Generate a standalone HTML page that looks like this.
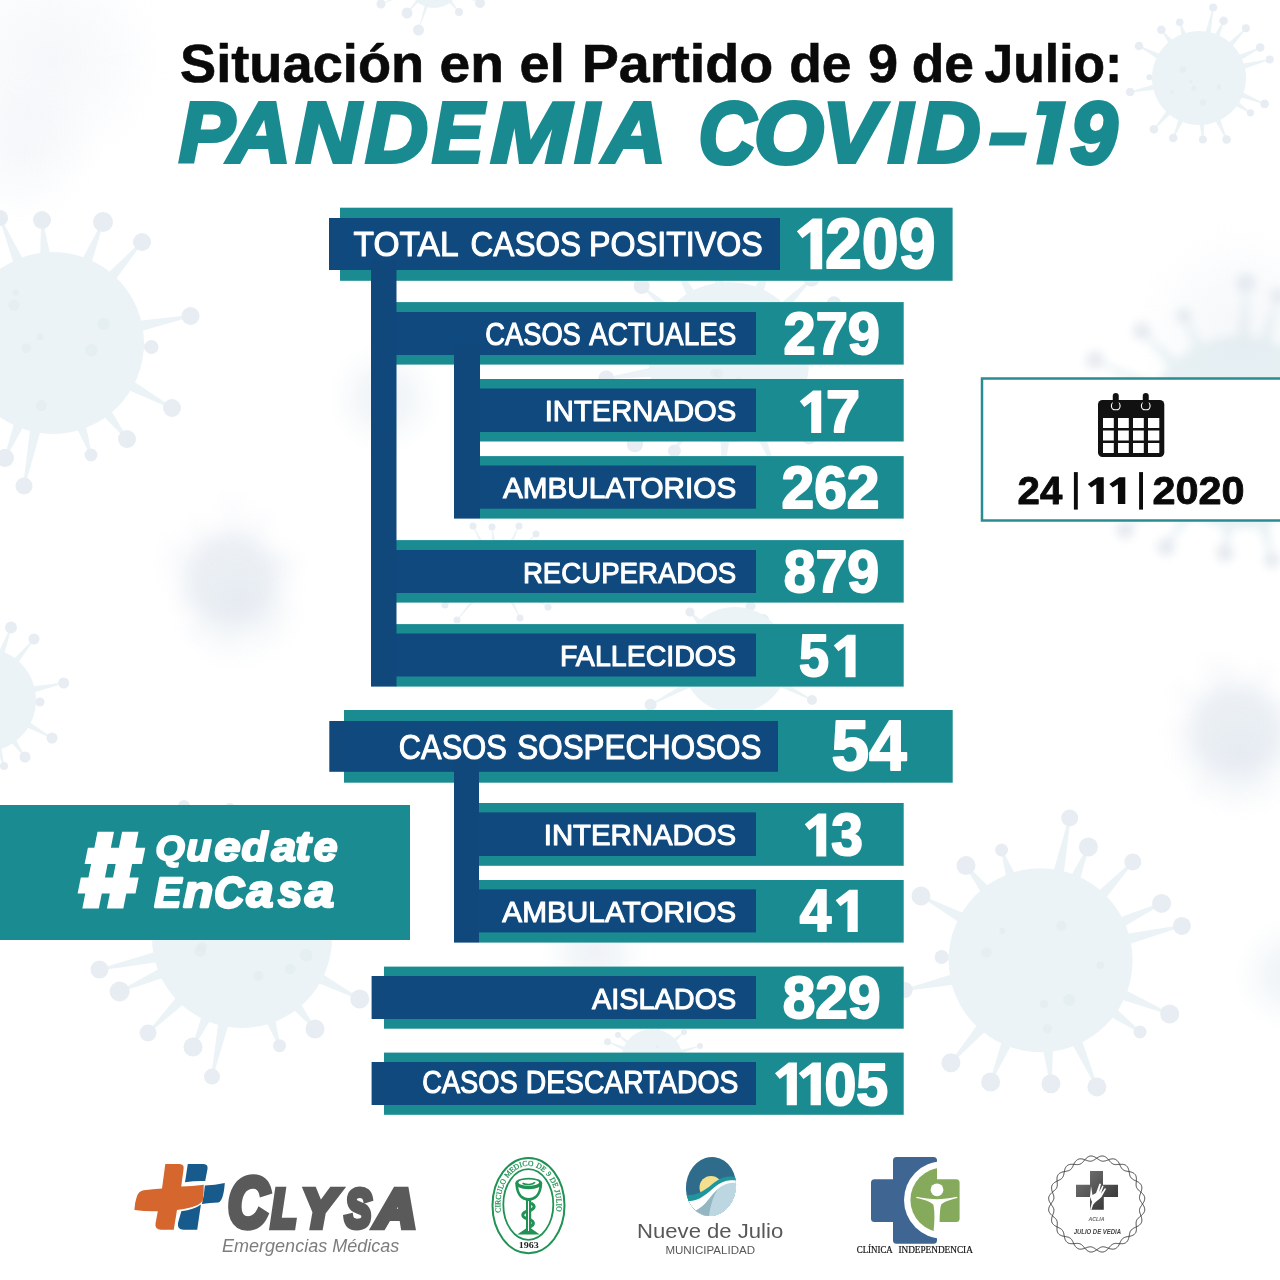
<!DOCTYPE html>
<html lang="es">
<head>
<meta charset="utf-8">
<title>Situación en el Partido de 9 de Julio: Pandemia COVID-19</title>
<style>
html,body{margin:0;padding:0;background:#fff;}
body{width:1280px;height:1280px;overflow:hidden;font-family:"Liberation Sans",sans-serif;}
svg{display:block;}
text{font-family:"Liberation Sans",sans-serif;}
.lbl{fill:#fff;font-weight:400;stroke:#fff;stroke-width:1.05;stroke-linejoin:round;}
.num{fill:#fff;font-weight:700;stroke:#fff;stroke-width:2;stroke-linejoin:round;}
.serif{font-family:"Liberation Serif",serif;}
</style>
</head>
<body>
<svg width="1280" height="1280" viewBox="0 0 1280 1280">
<rect x="0" y="0" width="1280" height="1280" fill="#ffffff"/>
<g opacity="0.999">
<defs>
<radialGradient id="gb"><stop offset="0" stop-color="#dfe4ee"/><stop offset="0.45" stop-color="#e6edf2" stop-opacity="0.85"/><stop offset="1" stop-color="#eef3f6" stop-opacity="0"/></radialGradient>
<filter id="b3" x="-30%" y="-30%" width="160%" height="160%"><feGaussianBlur stdDeviation="3"/></filter>
<filter id="b5" x="-30%" y="-30%" width="160%" height="160%"><feGaussianBlur stdDeviation="5"/></filter>
<filter id="b10" x="-40%" y="-40%" width="180%" height="180%"><feGaussianBlur stdDeviation="10"/></filter>
<filter id="b8" x="-30%" y="-30%" width="160%" height="160%"><feGaussianBlur stdDeviation="8"/></filter>
</defs>
<g opacity="1">
<path d="M1062.7 882.2L1070.6 818.2L1068.8 817.8L1051.0 879.8Z" fill="#ecf3f6"/>
<circle cx="1069.7" cy="818.0" r="8.5" fill="#e7edf2"/>
<path d="M1077.6 888.0L1089.2 847.3L1087.6 846.7L1066.6 883.4Z" fill="#ecf3f6"/>
<circle cx="1088.4" cy="847.0" r="9.5" fill="#e7edf2"/>
<path d="M1100.3 905.3L1133.5 862.5L1132.1 861.3L1091.6 897.1Z" fill="#ecf3f6"/>
<circle cx="1132.8" cy="861.9" r="8.5" fill="#e7edf2"/>
<path d="M1116.4 931.3L1162.0 904.2L1161.2 902.6L1111.3 920.4Z" fill="#ecf3f6"/>
<circle cx="1161.6" cy="903.4" r="9.5" fill="#e7edf2"/>
<path d="M1120.7 947.0L1182.1 926.8L1181.7 925.0L1117.8 935.3Z" fill="#ecf3f6"/>
<circle cx="1181.9" cy="925.9" r="9.0" fill="#e7edf2"/>
<path d="M1113.1 996.9L1169.4 1014.8L1170.0 1013.2L1117.6 985.9Z" fill="#ecf3f6"/>
<circle cx="1169.7" cy="1014.0" r="9.5" fill="#e7edf2"/>
<path d="M1102.8 1012.5L1139.5 1032.7L1140.5 1031.3L1109.8 1002.8Z" fill="#ecf3f6"/>
<circle cx="1140.0" cy="1032.0" r="6.5" fill="#e7edf2"/>
<path d="M1068.0 1036.7L1096.1 1087.3L1097.7 1086.5L1079.0 1031.8Z" fill="#ecf3f6"/>
<circle cx="1096.9" cy="1086.9" r="9.5" fill="#e7edf2"/>
<path d="M1041.4 1041.5L1050.0 1083.9L1051.8 1083.7L1053.3 1040.5Z" fill="#ecf3f6"/>
<circle cx="1050.9" cy="1083.8" r="9.5" fill="#e7edf2"/>
<path d="M1004.3 1032.9L989.8 1081.7L991.4 1082.3L1015.4 1037.5Z" fill="#ecf3f6"/>
<circle cx="990.6" cy="1082.0" r="9.5" fill="#e7edf2"/>
<path d="M982.8 1017.3L950.2 1062.2L951.6 1063.4L991.8 1025.2Z" fill="#ecf3f6"/>
<circle cx="950.9" cy="1062.8" r="9.5" fill="#e7edf2"/>
<path d="M960.2 971.7L904.5 989.1L904.9 990.9L962.8 983.4Z" fill="#ecf3f6"/>
<circle cx="904.7" cy="990.0" r="8.0" fill="#e7edf2"/>
<path d="M959.9 951.6L941.6 956.1L941.6 957.9L959.5 963.6Z" fill="#ecf3f6"/>
<circle cx="941.6" cy="957.0" r="7.0" fill="#e7edf2"/>
<path d="M972.1 916.7L921.4 895.2L920.6 896.8L966.5 927.2Z" fill="#ecf3f6"/>
<circle cx="921.0" cy="896.0" r="9.5" fill="#e7edf2"/>
<path d="M995.2 893.0L966.7 865.0L965.3 866.2L985.8 900.4Z" fill="#ecf3f6"/>
<circle cx="966.0" cy="865.6" r="9.5" fill="#e7edf2"/>
<path d="M1019.2 882.0L1002.4 849.7L1000.8 850.3L1008.0 886.0Z" fill="#ecf3f6"/>
<circle cx="1001.6" cy="850.0" r="6.5" fill="#e7edf2"/>
<circle cx="1040.6" cy="960.3" r="92.0" fill="#ecf3f6"/>
<circle cx="1043.9" cy="1004.0" r="4.1" fill="#e3ebef" opacity="0.7"/>
<circle cx="1002.2" cy="930.9" r="3.0" fill="#e3ebef" opacity="0.7"/>
<circle cx="1100.4" cy="965.3" r="3.7" fill="#e3ebef" opacity="0.7"/>
<circle cx="1047.4" cy="1028.7" r="4.5" fill="#e3ebef" opacity="0.7"/>
<circle cx="1061.3" cy="926.0" r="5.1" fill="#e3ebef" opacity="0.7"/>
<circle cx="1069.2" cy="999.9" r="6.0" fill="#e3ebef" opacity="0.7"/>
<circle cx="986.5" cy="952.4" r="5.2" fill="#e3ebef" opacity="0.7"/>
</g>
<g opacity="1">
<path d="M27.2 267.0L0.8 217.7L-0.8 218.3L16.3 271.6Z" fill="#ecf3f6"/>
<circle cx="0.0" cy="218.0" r="8.0" fill="#e7edf2"/>
<path d="M51.8 262.7L42.9 219.9L41.1 220.1L40.0 263.8Z" fill="#ecf3f6"/>
<circle cx="42.0" cy="220.0" r="9.0" fill="#e7edf2"/>
<path d="M89.0 271.2L103.8 222.3L102.2 221.7L78.1 266.7Z" fill="#ecf3f6"/>
<circle cx="103.0" cy="222.0" r="10.0" fill="#e7edf2"/>
<path d="M110.4 286.8L142.7 242.6L141.3 241.4L101.5 279.0Z" fill="#ecf3f6"/>
<circle cx="142.0" cy="242.0" r="9.0" fill="#e7edf2"/>
<path d="M132.7 333.4L190.7 316.9L190.3 315.1L130.4 321.8Z" fill="#ecf3f6"/>
<circle cx="190.5" cy="316.0" r="9.0" fill="#e7edf2"/>
<path d="M132.8 352.2L151.5 347.9L151.5 346.1L133.3 340.3Z" fill="#ecf3f6"/>
<circle cx="151.5" cy="347.0" r="7.0" fill="#e7edf2"/>
<path d="M120.4 386.6L171.6 408.8L172.4 407.2L126.1 376.2Z" fill="#ecf3f6"/>
<circle cx="172.0" cy="408.0" r="9.0" fill="#e7edf2"/>
<path d="M97.2 410.0L126.3 439.5L127.7 438.5L106.6 402.8Z" fill="#ecf3f6"/>
<circle cx="127.0" cy="439.0" r="9.0" fill="#e7edf2"/>
<path d="M73.1 420.7L90.2 455.3L91.8 454.7L84.3 416.9Z" fill="#ecf3f6"/>
<circle cx="91.0" cy="455.0" r="6.5" fill="#e7edf2"/>
<path d="M31.3 420.3L23.1 485.8L24.9 486.2L42.9 422.7Z" fill="#ecf3f6"/>
<circle cx="24.0" cy="486.0" r="8.5" fill="#e7edf2"/>
<path d="M16.7 414.6L4.2 457.7L5.8 458.3L27.6 419.2Z" fill="#ecf3f6"/>
<circle cx="5.0" cy="458.0" r="9.0" fill="#e7edf2"/>
<circle cx="53.0" cy="343.0" r="91.0" fill="#ecf3f6"/>
<circle cx="14.2" cy="305.2" r="5.6" fill="#e3ebef" opacity="0.7"/>
<circle cx="103.6" cy="323.9" r="6.1" fill="#e3ebef" opacity="0.7"/>
<circle cx="91.4" cy="350.1" r="6.2" fill="#e3ebef" opacity="0.7"/>
<circle cx="15.7" cy="292.4" r="3.1" fill="#e3ebef" opacity="0.7"/>
<circle cx="26.4" cy="348.2" r="4.7" fill="#e3ebef" opacity="0.7"/>
<circle cx="40.2" cy="336.6" r="3.5" fill="#e3ebef" opacity="0.7"/>
<circle cx="41.3" cy="405.6" r="5.5" fill="#e3ebef" opacity="0.7"/>
</g>
<g opacity="1">
<path d="M1210.2 38.1L1213.6 7.5L1212.8 7.3L1204.2 36.8Z" fill="#ecf3f6"/>
<circle cx="1213.2" cy="7.4" r="4.0" fill="#e7edf2"/>
<path d="M1218.1 41.2L1224.0 21.0L1223.2 20.6L1212.5 38.8Z" fill="#ecf3f6"/>
<circle cx="1223.6" cy="20.8" r="4.3" fill="#e7edf2"/>
<path d="M1229.6 50.0L1246.2 28.5L1245.6 27.9L1225.1 45.8Z" fill="#ecf3f6"/>
<circle cx="1245.9" cy="28.2" r="4.0" fill="#e7edf2"/>
<path d="M1237.4 62.3L1260.4 47.9L1260.0 47.1L1234.7 56.8Z" fill="#ecf3f6"/>
<circle cx="1260.2" cy="47.5" r="4.3" fill="#e7edf2"/>
<path d="M1239.8 70.4L1269.8 59.8L1269.6 59.0L1238.2 64.5Z" fill="#ecf3f6"/>
<circle cx="1269.7" cy="59.4" r="4.0" fill="#e7edf2"/>
<path d="M1236.3 96.0L1264.4 104.3L1264.8 103.5L1238.6 90.3Z" fill="#ecf3f6"/>
<circle cx="1264.6" cy="103.9" r="4.3" fill="#e7edf2"/>
<path d="M1231.5 103.7L1250.1 113.2L1250.7 112.4L1235.0 98.7Z" fill="#ecf3f6"/>
<circle cx="1250.4" cy="112.8" r="3.6" fill="#e7edf2"/>
<path d="M1213.1 117.0L1226.2 139.7L1227.0 139.3L1218.7 114.5Z" fill="#ecf3f6"/>
<circle cx="1226.6" cy="139.5" r="4.3" fill="#e7edf2"/>
<path d="M1198.6 119.5L1202.4 139.5L1203.4 139.5L1204.7 119.1Z" fill="#ecf3f6"/>
<circle cx="1202.9" cy="139.5" r="4.0" fill="#e7edf2"/>
<path d="M1179.9 114.8L1172.8 137.8L1173.6 138.2L1185.5 117.2Z" fill="#ecf3f6"/>
<circle cx="1173.2" cy="138.0" r="4.3" fill="#e7edf2"/>
<path d="M1169.4 107.0L1153.6 128.9L1154.2 129.5L1174.0 111.1Z" fill="#ecf3f6"/>
<circle cx="1153.9" cy="129.2" r="4.3" fill="#e7edf2"/>
<path d="M1157.9 83.2L1130.0 91.6L1130.2 92.4L1159.1 89.2Z" fill="#ecf3f6"/>
<circle cx="1130.1" cy="92.0" r="4.3" fill="#e7edf2"/>
<path d="M1157.7 74.3L1149.4 76.7L1149.4 77.7L1157.6 80.4Z" fill="#ecf3f6"/>
<circle cx="1149.4" cy="77.2" r="3.0" fill="#e7edf2"/>
<path d="M1163.9 55.8L1139.2 45.6L1138.8 46.4L1161.1 61.2Z" fill="#ecf3f6"/>
<circle cx="1139.0" cy="46.0" r="4.3" fill="#e7edf2"/>
<path d="M1176.0 43.5L1161.7 29.4L1160.9 30.0L1171.1 47.3Z" fill="#ecf3f6"/>
<circle cx="1161.3" cy="29.7" r="4.3" fill="#e7edf2"/>
<path d="M1188.3 37.9L1180.1 22.1L1179.3 22.5L1182.6 39.9Z" fill="#ecf3f6"/>
<circle cx="1179.7" cy="22.3" r="3.8" fill="#e7edf2"/>
<circle cx="1199.0" cy="78.0" r="47.0" fill="#ecf3f6"/>
<circle cx="1193.9" cy="88.1" r="2.6" fill="#e3ebef" opacity="0.7"/>
<circle cx="1218.9" cy="87.7" r="2.1" fill="#e3ebef" opacity="0.7"/>
<circle cx="1219.0" cy="85.6" r="1.5" fill="#e3ebef" opacity="0.7"/>
<circle cx="1190.8" cy="81.7" r="1.6" fill="#e3ebef" opacity="0.7"/>
<circle cx="1172.0" cy="91.9" r="1.6" fill="#e3ebef" opacity="0.7"/>
<circle cx="1203.1" cy="102.4" r="3.2" fill="#e3ebef" opacity="0.7"/>
<circle cx="1182.9" cy="69.5" r="3.2" fill="#e3ebef" opacity="0.7"/>
</g>
<g opacity="1">
<path d="M3.1 658.3L11.5 627.7L10.5 627.3L-3.2 655.9Z" fill="#ecf3f6"/>
<circle cx="11.0" cy="627.5" r="6.0" fill="#e7edf2"/>
<path d="M15.6 666.8L34.4 639.3L33.6 638.7L10.4 662.5Z" fill="#ecf3f6"/>
<circle cx="34.0" cy="639.0" r="5.5" fill="#e7edf2"/>
<path d="M29.5 693.8L63.8 683.5L63.6 682.5L28.0 687.1Z" fill="#ecf3f6"/>
<circle cx="63.7" cy="683.0" r="5.5" fill="#e7edf2"/>
<path d="M29.6 705.0L40.0 702.5L40.0 701.5L29.9 698.3Z" fill="#ecf3f6"/>
<circle cx="40.0" cy="702.0" r="4.5" fill="#e7edf2"/>
<path d="M22.3 725.3L51.8 738.4L52.2 737.6L25.6 719.4Z" fill="#ecf3f6"/>
<circle cx="52.0" cy="738.0" r="5.5" fill="#e7edf2"/>
<path d="M8.0 739.1L24.6 757.3L25.4 756.7L13.5 735.2Z" fill="#ecf3f6"/>
<circle cx="25.0" cy="757.0" r="5.5" fill="#e7edf2"/>
<path d="M-6.0 744.8L3.5 766.1L4.5 765.9L0.5 742.8Z" fill="#ecf3f6"/>
<circle cx="4.0" cy="766.0" r="4.0" fill="#e7edf2"/>
<circle cx="-16.0" cy="700.0" r="52.0" fill="#ecf3f6"/>
<circle cx="-34.9" cy="704.5" r="1.8" fill="#e3ebef" opacity="0.7"/>
<circle cx="-10.7" cy="694.1" r="2.6" fill="#e3ebef" opacity="0.7"/>
<circle cx="-7.7" cy="693.8" r="2.7" fill="#e3ebef" opacity="0.7"/>
<circle cx="-22.7" cy="693.9" r="2.3" fill="#e3ebef" opacity="0.7"/>
<circle cx="-22.3" cy="679.0" r="3.1" fill="#e3ebef" opacity="0.7"/>
<circle cx="-7.6" cy="712.7" r="1.8" fill="#e3ebef" opacity="0.7"/>
<circle cx="-52.6" cy="698.6" r="2.8" fill="#e3ebef" opacity="0.7"/>
</g>
<g opacity="1">
<path d="M163.4 949.4L99.3 968.7L99.7 970.5L165.9 960.9Z" fill="#ecf3f6"/>
<circle cx="99.5" cy="969.6" r="9.0" fill="#e7edf2"/>
<path d="M167.1 964.4L119.2 990.7L120.0 992.3L171.8 975.1Z" fill="#ecf3f6"/>
<circle cx="119.6" cy="991.5" r="10.0" fill="#e7edf2"/>
<path d="M182.1 990.2L147.4 1032.4L148.6 1033.6L190.5 998.4Z" fill="#ecf3f6"/>
<circle cx="148.0" cy="1033.0" r="8.5" fill="#e7edf2"/>
<path d="M204.2 1007.8L192.2 1046.6L193.8 1047.4L214.9 1012.6Z" fill="#ecf3f6"/>
<circle cx="193.0" cy="1047.0" r="9.5" fill="#e7edf2"/>
<path d="M219.5 1014.2L211.1 1076.4L212.9 1076.8L231.0 1016.6Z" fill="#ecf3f6"/>
<circle cx="212.0" cy="1076.6" r="8.0" fill="#e7edf2"/>
<path d="M262.5 1014.7L278.7 1046.0L280.3 1045.4L273.6 1010.9Z" fill="#ecf3f6"/>
<circle cx="279.5" cy="1045.7" r="6.5" fill="#e7edf2"/>
<path d="M287.0 1003.4L314.3 1029.5L315.7 1028.5L296.1 996.1Z" fill="#ecf3f6"/>
<circle cx="315.0" cy="1029.0" r="9.5" fill="#e7edf2"/>
<path d="M309.6 979.6L359.3 999.8L360.1 998.2L315.0 969.2Z" fill="#ecf3f6"/>
<circle cx="359.7" cy="999.0" r="9.5" fill="#e7edf2"/>
<path d="M215.5 863.1L184.8 805.6L183.2 806.4L204.8 867.8Z" fill="#ecf3f6"/>
<circle cx="184.0" cy="806.0" r="6.0" fill="#e7edf2"/>
<path d="M240.5 858.6L230.9 807.9L229.1 808.1L228.9 859.7Z" fill="#ecf3f6"/>
<circle cx="230.0" cy="808.0" r="5.0" fill="#e7edf2"/>
<circle cx="242.0" cy="938.0" r="90.0" fill="#ecf3f6"/>
<circle cx="200.2" cy="950.9" r="6.0" fill="#e3ebef" opacity="0.7"/>
<circle cx="202.0" cy="946.8" r="4.8" fill="#e3ebef" opacity="0.7"/>
<circle cx="258.4" cy="975.7" r="5.0" fill="#e3ebef" opacity="0.7"/>
<circle cx="247.0" cy="920.1" r="3.8" fill="#e3ebef" opacity="0.7"/>
<circle cx="290.2" cy="968.9" r="5.2" fill="#e3ebef" opacity="0.7"/>
<circle cx="306.2" cy="955.3" r="6.2" fill="#e3ebef" opacity="0.7"/>
<circle cx="215.5" cy="899.5" r="3.3" fill="#e3ebef" opacity="0.7"/>
</g>
<g opacity="1">
<path d="M799.6 362.9L849.3 355.5L849.2 353.9L799.0 352.5Z" fill="#ecf3f6"/>
<circle cx="849.2" cy="354.7" r="7.8" fill="#e7edf2"/>
<path d="M788.0 400.7L823.5 415.3L824.2 413.9L793.1 391.6Z" fill="#ecf3f6"/>
<circle cx="823.8" cy="414.6" r="6.3" fill="#e7edf2"/>
<path d="M777.0 413.7L808.6 437.1L809.6 435.9L784.1 406.1Z" fill="#ecf3f6"/>
<circle cx="809.1" cy="436.5" r="7.9" fill="#e7edf2"/>
<path d="M752.1 428.7L774.5 469.5L775.9 468.9L761.6 424.6Z" fill="#ecf3f6"/>
<circle cx="775.2" cy="469.2" r="6.3" fill="#e7edf2"/>
<path d="M720.1 432.0L722.2 476.2L723.7 476.2L730.5 432.6Z" fill="#ecf3f6"/>
<circle cx="722.9" cy="476.2" r="8.3" fill="#e7edf2"/>
<path d="M687.7 419.3L673.7 450.5L675.0 451.3L696.6 424.7Z" fill="#ecf3f6"/>
<circle cx="674.4" cy="450.9" r="6.5" fill="#e7edf2"/>
<path d="M672.5 404.3L634.3 443.5L635.4 444.7L679.4 412.2Z" fill="#ecf3f6"/>
<circle cx="634.9" cy="444.1" r="8.2" fill="#e7edf2"/>
<path d="M658.5 366.1L606.1 377.6L606.4 379.1L659.9 376.5Z" fill="#ecf3f6"/>
<circle cx="606.3" cy="378.4" r="8.0" fill="#e7edf2"/>
<path d="M663.9 334.8L612.5 322.3L612.0 323.8L660.6 344.6Z" fill="#ecf3f6"/>
<circle cx="612.3" cy="323.0" r="6.4" fill="#e7edf2"/>
<path d="M679.3 311.9L642.3 285.5L641.2 286.6L672.5 319.7Z" fill="#ecf3f6"/>
<circle cx="641.7" cy="286.0" r="8.0" fill="#e7edf2"/>
<path d="M699.3 297.9L674.1 261.7L672.8 262.5L690.2 303.0Z" fill="#ecf3f6"/>
<circle cx="673.4" cy="262.1" r="6.8" fill="#e7edf2"/>
<path d="M725.6 291.5L716.2 251.2L714.6 251.4L715.2 292.8Z" fill="#ecf3f6"/>
<circle cx="715.4" cy="251.3" r="6.0" fill="#e7edf2"/>
<path d="M760.9 299.0L777.1 248.6L775.6 248.0L751.3 295.0Z" fill="#ecf3f6"/>
<circle cx="776.3" cy="248.3" r="8.8" fill="#e7edf2"/>
<path d="M782.3 315.7L812.1 279.2L811.0 278.1L774.9 308.3Z" fill="#ecf3f6"/>
<circle cx="811.6" cy="278.7" r="8.0" fill="#e7edf2"/>
<path d="M793.0 332.1L834.3 303.9L833.5 302.6L787.9 323.1Z" fill="#ecf3f6"/>
<circle cx="833.9" cy="303.2" r="7.0" fill="#e7edf2"/>
<circle cx="729.0" cy="362.0" r="80.0" fill="#ecf3f6"/>
<circle cx="738.7" cy="381.5" r="4.1" fill="#e3ebef" opacity="0.7"/>
<circle cx="728.3" cy="396.0" r="4.3" fill="#e3ebef" opacity="0.7"/>
<circle cx="714.5" cy="373.1" r="4.0" fill="#e3ebef" opacity="0.7"/>
<circle cx="731.1" cy="385.2" r="3.0" fill="#e3ebef" opacity="0.7"/>
<circle cx="718.6" cy="373.5" r="4.5" fill="#e3ebef" opacity="0.7"/>
<circle cx="758.4" cy="353.2" r="4.7" fill="#e3ebef" opacity="0.7"/>
<circle cx="741.8" cy="356.2" r="2.9" fill="#e3ebef" opacity="0.7"/>
</g>
<g opacity="1">
<path d="M412.2 -10.8L380.9 3.8L381.1 4.2L413.5 -7.7Z" fill="#ecf3f6"/>
<circle cx="381.0" cy="4.0" r="4.5" fill="#e7edf2"/>
<path d="M417.7 -1.9L406.8 12.8L407.2 13.2L420.2 0.4Z" fill="#ecf3f6"/>
<circle cx="407.0" cy="13.0" r="5.5" fill="#e7edf2"/>
<path d="M425.4 3.3L418.3 29.9L418.7 30.1L428.6 4.3Z" fill="#ecf3f6"/>
<circle cx="418.5" cy="30.0" r="5.5" fill="#e7edf2"/>
<path d="M447.3 0.7L458.8 12.2L459.2 11.8L449.9 -1.5Z" fill="#ecf3f6"/>
<circle cx="459.0" cy="12.0" r="4.0" fill="#e7edf2"/>
<path d="M454.1 -7.0L479.9 3.2L480.1 2.8L455.5 -10.0Z" fill="#ecf3f6"/>
<circle cx="480.0" cy="3.0" r="5.0" fill="#e7edf2"/>
<circle cx="434.0" cy="-18.0" r="26.0" fill="#ecf3f6"/>
<circle cx="438.0" cy="-18.9" r="1.5" fill="#e3ebef" opacity="0.7"/>
<circle cx="444.5" cy="-1.8" r="0.8" fill="#e3ebef" opacity="0.7"/>
<circle cx="444.6" cy="-28.0" r="1.7" fill="#e3ebef" opacity="0.7"/>
<circle cx="441.6" cy="-18.0" r="1.1" fill="#e3ebef" opacity="0.7"/>
<circle cx="431.9" cy="-26.0" r="1.1" fill="#e3ebef" opacity="0.7"/>
<circle cx="436.3" cy="-0.9" r="1.7" fill="#e3ebef" opacity="0.7"/>
<circle cx="436.2" cy="-25.1" r="1.7" fill="#e3ebef" opacity="0.7"/>
</g>
<g opacity="1">
<path d="M486.5 547.7L473.3 525.9L472.7 526.1L483.1 549.5Z" fill="#ecf3f6"/>
<circle cx="473.0" cy="526.0" r="3.5" fill="#e7edf2"/>
<path d="M496.0 545.5L492.3 527.0L491.7 527.0L492.1 546.0Z" fill="#ecf3f6"/>
<circle cx="492.0" cy="527.0" r="3.5" fill="#e7edf2"/>
<path d="M510.1 549.0L519.3 526.1L518.7 525.9L506.6 547.3Z" fill="#ecf3f6"/>
<circle cx="519.0" cy="526.0" r="3.5" fill="#e7edf2"/>
<path d="M517.3 555.0L536.2 534.2L535.8 533.8L514.5 552.2Z" fill="#ecf3f6"/>
<circle cx="536.0" cy="534.0" r="3.5" fill="#e7edf2"/>
<path d="M473.7 584.5L444.8 604.8L445.2 605.2L475.8 587.8Z" fill="#ecf3f6"/>
<circle cx="445.0" cy="605.0" r="3.5" fill="#e7edf2"/>
<path d="M478.6 591.0L456.8 619.8L457.2 620.2L481.6 593.5Z" fill="#ecf3f6"/>
<circle cx="457.0" cy="620.0" r="3.5" fill="#e7edf2"/>
<path d="M507.1 596.5L519.7 618.1L520.3 617.9L510.6 594.7Z" fill="#ecf3f6"/>
<circle cx="520.0" cy="618.0" r="3.5" fill="#e7edf2"/>
<path d="M517.7 588.5L547.8 607.2L548.2 606.8L519.9 585.3Z" fill="#ecf3f6"/>
<circle cx="548.0" cy="607.0" r="3.5" fill="#e7edf2"/>
<path d="M523.0 566.8L540.1 560.3L539.9 559.7L521.9 563.0Z" fill="#ecf3f6"/>
<circle cx="540.0" cy="560.0" r="3.0" fill="#e7edf2"/>
<circle cx="497.0" cy="572.0" r="30.0" fill="#ecf3f6"/>
<circle cx="478.2" cy="569.4" r="2.1" fill="#e3ebef" opacity="0.7"/>
<circle cx="492.5" cy="589.7" r="1.7" fill="#e3ebef" opacity="0.7"/>
<circle cx="493.6" cy="566.5" r="0.9" fill="#e3ebef" opacity="0.7"/>
<circle cx="483.6" cy="583.9" r="1.2" fill="#e3ebef" opacity="0.7"/>
<circle cx="486.8" cy="571.9" r="1.9" fill="#e3ebef" opacity="0.7"/>
<circle cx="508.0" cy="568.0" r="2.1" fill="#e3ebef" opacity="0.7"/>
<circle cx="514.7" cy="579.3" r="2.0" fill="#e3ebef" opacity="0.7"/>
</g>
<g opacity="1">
<path d="M751.3 616.1L751.1 606.1L750.1 605.9L744.6 614.2Z" fill="#ecf3f6"/>
<circle cx="750.6" cy="606.0" r="5.0" fill="#e7edf2"/>
<path d="M764.6 623.8L763.4 620.3L762.6 619.7L758.9 619.8Z" fill="#ecf3f6"/>
<circle cx="763.0" cy="620.0" r="6.0" fill="#e7edf2"/>
<path d="M713.5 618.5L712.0 621.7L711.2 622.3L707.6 622.1Z" fill="#ecf3f6"/>
<circle cx="711.6" cy="622.0" r="5.0" fill="#e7edf2"/>
<path d="M692.2 678.8L650.4 704.2L650.8 705.2L695.4 684.9Z" fill="#ecf3f6"/>
<circle cx="650.6" cy="704.7" r="6.0" fill="#e7edf2"/>
<path d="M705.6 623.6L690.4 611.6L689.6 612.4L700.6 628.3Z" fill="#ecf3f6"/>
<circle cx="690.0" cy="612.0" r="4.5" fill="#e7edf2"/>
<path d="M780.6 649.6L800.2 640.5L799.8 639.5L778.6 643.0Z" fill="#ecf3f6"/>
<circle cx="800.0" cy="640.0" r="5.0" fill="#e7edf2"/>
<path d="M774.8 684.6L811.8 700.5L812.2 699.5L778.0 678.4Z" fill="#ecf3f6"/>
<circle cx="812.0" cy="700.0" r="5.0" fill="#e7edf2"/>
<circle cx="735.0" cy="660.0" r="53.0" fill="#ecf3f6"/>
<circle cx="720.5" cy="630.5" r="2.7" fill="#e3ebef" opacity="0.7"/>
<circle cx="714.6" cy="658.5" r="3.7" fill="#e3ebef" opacity="0.7"/>
<circle cx="731.9" cy="672.3" r="2.1" fill="#e3ebef" opacity="0.7"/>
<circle cx="733.8" cy="678.3" r="2.2" fill="#e3ebef" opacity="0.7"/>
<circle cx="749.3" cy="671.5" r="2.2" fill="#e3ebef" opacity="0.7"/>
<circle cx="722.0" cy="653.9" r="1.7" fill="#e3ebef" opacity="0.7"/>
<circle cx="742.4" cy="684.1" r="2.4" fill="#e3ebef" opacity="0.7"/>
</g>
<g opacity="1">
<path d="M627.5 1047.8L607.6 1041.4L607.4 1042.0L626.0 1051.5Z" fill="#ecf3f6"/>
<circle cx="607.5" cy="1041.7" r="3.5" fill="#e7edf2"/>
<path d="M631.2 1042.2L618.2 1034.8L617.8 1035.2L628.8 1045.5Z" fill="#ecf3f6"/>
<circle cx="618.0" cy="1035.0" r="3.0" fill="#e7edf2"/>
<path d="M673.9 1043.6L684.2 1032.2L683.8 1031.8L671.2 1040.5Z" fill="#ecf3f6"/>
<circle cx="684.0" cy="1032.0" r="3.0" fill="#e7edf2"/>
<path d="M678.8 1054.3L700.1 1046.3L699.9 1045.7L677.6 1050.4Z" fill="#ecf3f6"/>
<circle cx="700.0" cy="1046.0" r="3.0" fill="#e7edf2"/>
<path d="M659.3 1033.6L660.3 1020.1L659.7 1019.9L655.4 1032.9Z" fill="#ecf3f6"/>
<circle cx="660.0" cy="1020.0" r="3.0" fill="#e7edf2"/>
<circle cx="652.0" cy="1060.0" r="31.0" fill="#ecf3f6"/>
<circle cx="660.9" cy="1075.0" r="1.7" fill="#e3ebef" opacity="0.7"/>
<circle cx="643.4" cy="1061.1" r="1.9" fill="#e3ebef" opacity="0.7"/>
<circle cx="657.0" cy="1046.7" r="1.6" fill="#e3ebef" opacity="0.7"/>
<circle cx="652.4" cy="1064.7" r="1.4" fill="#e3ebef" opacity="0.7"/>
<circle cx="646.9" cy="1057.0" r="1.9" fill="#e3ebef" opacity="0.7"/>
<circle cx="653.0" cy="1068.9" r="1.0" fill="#e3ebef" opacity="0.7"/>
<circle cx="670.4" cy="1059.7" r="2.0" fill="#e3ebef" opacity="0.7"/>
</g>
<circle cx="595" cy="952" r="55" fill="url(#gb)" opacity="0.5"/>
<circle cx="385" cy="398" r="58" fill="url(#gb)" opacity="0.5"/>
<circle cx="50" cy="60" r="120" fill="url(#gb)" opacity="0.3"/>
<circle cx="20" cy="150" r="80" fill="url(#gb)" opacity="0.25"/>
<g opacity="0.62" filter="url(#b10)">
<path d="M271.5 574.8L291.7 569.1L291.6 568.2L270.5 568.9Z" fill="#dfe5ee"/>
<circle cx="291.6" cy="568.6" r="3.9" fill="#dde3ec"/>
<path d="M263.2 602.7L282.3 612.3L282.8 611.5L266.5 597.7Z" fill="#dfe5ee"/>
<circle cx="282.6" cy="611.9" r="3.4" fill="#dde3ec"/>
<path d="M251.7 612.9L270.8 635.9L271.5 635.4L256.6 609.5Z" fill="#dfe5ee"/>
<circle cx="271.1" cy="635.7" r="3.5" fill="#dde3ec"/>
<path d="M225.0 618.1L225.3 646.7L226.2 646.8L230.9 618.6Z" fill="#dfe5ee"/>
<circle cx="225.8" cy="646.7" r="3.5" fill="#dde3ec"/>
<path d="M207.8 611.3L197.0 634.5L197.8 635.0L212.9 614.4Z" fill="#dfe5ee"/>
<circle cx="197.4" cy="634.8" r="4.0" fill="#dde3ec"/>
<path d="M192.2 589.8L173.8 599.5L174.2 600.4L194.3 595.3Z" fill="#dfe5ee"/>
<circle cx="174.0" cy="600.0" r="3.3" fill="#dde3ec"/>
<path d="M191.3 569.5L166.3 568.6L166.2 569.4L190.5 575.4Z" fill="#dfe5ee"/>
<circle cx="166.3" cy="569.0" r="3.6" fill="#dde3ec"/>
<path d="M196.3 557.0L173.4 548.2L173.0 549.0L193.6 562.3Z" fill="#dfe5ee"/>
<circle cx="173.2" cy="548.6" r="5.0" fill="#dde3ec"/>
<path d="M210.1 543.2L195.2 526.4L194.4 527.0L205.2 546.7Z" fill="#dfe5ee"/>
<circle cx="194.8" cy="526.7" r="4.3" fill="#dde3ec"/>
<path d="M234.6 537.6L232.5 505.1L231.6 505.0L228.6 537.5Z" fill="#dfe5ee"/>
<circle cx="232.1" cy="505.0" r="4.8" fill="#dde3ec"/>
<path d="M252.3 543.4L260.2 522.6L259.4 522.2L247.0 540.7Z" fill="#dfe5ee"/>
<circle cx="259.8" cy="522.4" r="4.8" fill="#dde3ec"/>
<path d="M269.8 566.2L287.3 556.6L287.0 555.8L267.7 560.6Z" fill="#dfe5ee"/>
<circle cx="287.1" cy="556.2" r="4.6" fill="#dde3ec"/>
<circle cx="231.0" cy="578.0" r="46.0" fill="#dfe5ee"/>
<circle cx="247.8" cy="559.7" r="1.8" fill="#e3ebef" opacity="0.7"/>
<circle cx="238.8" cy="552.1" r="1.7" fill="#e3ebef" opacity="0.7"/>
<circle cx="222.8" cy="568.0" r="1.5" fill="#e3ebef" opacity="0.7"/>
<circle cx="222.7" cy="591.8" r="2.1" fill="#e3ebef" opacity="0.7"/>
<circle cx="212.9" cy="554.1" r="3.1" fill="#e3ebef" opacity="0.7"/>
<circle cx="264.9" cy="572.9" r="2.8" fill="#e3ebef" opacity="0.7"/>
<circle cx="226.9" cy="589.0" r="2.5" fill="#e3ebef" opacity="0.7"/>
</g>
<circle cx="238" cy="602" r="70" fill="url(#gb)" opacity="0.4"/>
<g opacity="0.62" filter="url(#b10)">
<path d="M1276.4 733.9L1304.5 732.0L1304.5 731.1L1276.5 727.9Z" fill="#dfe5ee"/>
<circle cx="1304.5" cy="731.5" r="4.7" fill="#dde3ec"/>
<path d="M1271.1 750.4L1297.6 760.6L1298.0 759.7L1273.7 745.1Z" fill="#dfe5ee"/>
<circle cx="1297.8" cy="760.1" r="4.9" fill="#dde3ec"/>
<path d="M1248.8 768.5L1259.6 787.7L1260.4 787.4L1254.3 766.2Z" fill="#dfe5ee"/>
<circle cx="1260.0" cy="787.6" r="4.4" fill="#dde3ec"/>
<path d="M1231.5 770.3L1233.1 796.7L1234.0 796.7L1237.5 770.6Z" fill="#dfe5ee"/>
<circle cx="1233.5" cy="796.7" r="5.0" fill="#dde3ec"/>
<path d="M1212.9 763.4L1202.1 786.6L1202.9 787.0L1218.0 766.4Z" fill="#dfe5ee"/>
<circle cx="1202.5" cy="786.8" r="5.0" fill="#dde3ec"/>
<path d="M1198.7 746.1L1179.1 759.2L1179.5 760.0L1201.5 751.4Z" fill="#dfe5ee"/>
<circle cx="1179.3" cy="759.6" r="3.8" fill="#dde3ec"/>
<path d="M1195.5 727.1L1175.5 729.6L1175.5 730.5L1195.5 733.0Z" fill="#dfe5ee"/>
<circle cx="1175.5" cy="730.1" r="4.3" fill="#dde3ec"/>
<path d="M1204.2 704.7L1182.0 692.7L1181.5 693.4L1200.9 709.7Z" fill="#dfe5ee"/>
<circle cx="1181.7" cy="693.0" r="4.8" fill="#dde3ec"/>
<path d="M1223.4 691.4L1210.8 667.4L1210.0 667.7L1217.9 693.7Z" fill="#dfe5ee"/>
<circle cx="1210.4" cy="667.6" r="4.5" fill="#dde3ec"/>
<path d="M1234.1 689.5L1229.2 669.8L1228.3 669.9L1228.2 690.2Z" fill="#dfe5ee"/>
<circle cx="1228.7" cy="669.9" r="5.0" fill="#dde3ec"/>
<path d="M1256.5 695.0L1264.0 673.9L1263.2 673.5L1251.1 692.3Z" fill="#dfe5ee"/>
<circle cx="1263.6" cy="673.7" r="4.9" fill="#dde3ec"/>
<path d="M1273.8 715.3L1291.7 703.9L1291.3 703.1L1271.2 709.9Z" fill="#dfe5ee"/>
<circle cx="1291.5" cy="703.5" r="3.8" fill="#dde3ec"/>
<circle cx="1236.0" cy="730.0" r="46.0" fill="#dfe5ee"/>
<circle cx="1236.7" cy="744.4" r="1.4" fill="#e3ebef" opacity="0.7"/>
<circle cx="1220.9" cy="727.6" r="2.1" fill="#e3ebef" opacity="0.7"/>
<circle cx="1239.9" cy="739.1" r="1.4" fill="#e3ebef" opacity="0.7"/>
<circle cx="1255.2" cy="710.3" r="2.4" fill="#e3ebef" opacity="0.7"/>
<circle cx="1243.8" cy="737.7" r="1.6" fill="#e3ebef" opacity="0.7"/>
<circle cx="1232.6" cy="737.8" r="1.9" fill="#e3ebef" opacity="0.7"/>
<circle cx="1239.6" cy="741.7" r="2.6" fill="#e3ebef" opacity="0.7"/>
</g>
<circle cx="1240" cy="750" r="70" fill="url(#gb)" opacity="0.4"/>
<g opacity="1" filter="url(#b5)">
<path d="M1167.1 388.8L1095.4 359.2L1094.6 360.8L1161.6 400.0Z" fill="#e6f0f3"/>
<circle cx="1095.0" cy="360.0" r="9.0" fill="#e6eaf0"/>
<path d="M1185.6 367.0L1142.7 330.3L1141.3 331.7L1176.7 375.7Z" fill="#e6f0f3"/>
<circle cx="1142.0" cy="331.0" r="9.0" fill="#e6eaf0"/>
<path d="M1208.9 353.2L1184.8 315.6L1183.2 316.4L1197.7 358.6Z" fill="#e6f0f3"/>
<circle cx="1184.0" cy="316.0" r="8.0" fill="#e6eaf0"/>
<path d="M1249.6 347.8L1246.9 283.0L1245.1 283.0L1237.2 347.3Z" fill="#e6f0f3"/>
<circle cx="1246.0" cy="283.0" r="10.0" fill="#e6eaf0"/>
<path d="M1268.7 352.3L1278.9 296.3L1277.1 295.7L1256.7 349.0Z" fill="#e6f0f3"/>
<circle cx="1278.0" cy="296.0" r="8.0" fill="#e6eaf0"/>
<path d="M1171.7 482.0L1124.4 529.3L1125.6 530.7L1179.7 491.5Z" fill="#e6f0f3"/>
<circle cx="1125.0" cy="530.0" r="9.0" fill="#e6eaf0"/>
<path d="M1189.0 499.7L1165.2 546.5L1166.8 547.5L1199.5 506.4Z" fill="#e6f0f3"/>
<circle cx="1166.0" cy="547.0" r="9.0" fill="#e6eaf0"/>
<path d="M1223.4 515.1L1224.1 552.9L1225.9 553.1L1235.8 516.6Z" fill="#e6f0f3"/>
<circle cx="1225.0" cy="553.0" r="9.0" fill="#e6eaf0"/>
<path d="M1254.4 515.5L1271.1 560.2L1272.9 559.8L1266.5 512.4Z" fill="#e6f0f3"/>
<circle cx="1272.0" cy="560.0" r="8.0" fill="#e6eaf0"/>
<circle cx="1240.0" cy="432.0" r="96.0" fill="#e6f0f3"/>
<circle cx="1301.5" cy="400.6" r="6.3" fill="#e3ebef" opacity="0.7"/>
<circle cx="1282.0" cy="456.3" r="4.5" fill="#e3ebef" opacity="0.7"/>
<circle cx="1218.5" cy="427.9" r="3.6" fill="#e3ebef" opacity="0.7"/>
<circle cx="1214.5" cy="441.3" r="4.6" fill="#e3ebef" opacity="0.7"/>
<circle cx="1259.1" cy="435.0" r="5.6" fill="#e3ebef" opacity="0.7"/>
<circle cx="1201.3" cy="452.9" r="5.7" fill="#e3ebef" opacity="0.7"/>
<circle cx="1228.8" cy="445.7" r="5.9" fill="#e3ebef" opacity="0.7"/>
</g>
<circle cx="1240" cy="330" r="110" fill="url(#gb)" opacity="0.3"/>
<circle cx="1292" cy="975" r="58" fill="url(#gb)" opacity="0.5"/>
<text transform="matrix(1.0127 0 0 1 179.98 81.90)" font-size="53.6" fill="#0a0a0a" font-weight="700" stroke="#0a0a0a" stroke-width="0.6" stroke-linejoin="miter" >Situación</text>
<text transform="matrix(1.0303 0 0 1 439.45 81.90)" font-size="53.6" fill="#0a0a0a" font-weight="700" stroke="#0a0a0a" stroke-width="0.6" stroke-linejoin="miter" >en</text>
<text transform="matrix(1.0127 0 0 1 519.48 81.90)" font-size="53.6" fill="#0a0a0a" font-weight="700" stroke="#0a0a0a" stroke-width="0.6" stroke-linejoin="miter" >el</text>
<text transform="matrix(1.0376 0 0 1 581.63 81.90)" font-size="53.6" fill="#0a0a0a" font-weight="700" stroke="#0a0a0a" stroke-width="0.6" stroke-linejoin="miter" >Partido</text>
<text transform="matrix(0.9958 0 0 1 789.26 81.90)" font-size="53.6" fill="#0a0a0a" font-weight="700" stroke="#0a0a0a" stroke-width="0.6" stroke-linejoin="miter" >de</text>
<text transform="matrix(1.0094 0 0 1 867.99 81.90)" font-size="53.6" fill="#0a0a0a" font-weight="700" stroke="#0a0a0a" stroke-width="0.6" stroke-linejoin="miter" >9</text>
<text transform="matrix(0.9958 0 0 1 911.76 81.90)" font-size="53.6" fill="#0a0a0a" font-weight="700" stroke="#0a0a0a" stroke-width="0.6" stroke-linejoin="miter" >de</text>
<text transform="matrix(0.9636 0 0 1 984.52 81.90)" font-size="53.6" fill="#0a0a0a" font-weight="700" stroke="#0a0a0a" stroke-width="0.6" stroke-linejoin="miter" >Julio:</text>
<text transform="matrix(0.9958 0 0 1.0235 179.00 162.35)" font-size="84" fill="#198b90" font-weight="700" font-style="italic" stroke="#198b90" stroke-width="4" stroke-linejoin="miter" >P</text>
<text transform="matrix(1.0323 0 0 1.0235 228.16 162.35)" font-size="84" fill="#198b90" font-weight="700" font-style="italic" stroke="#198b90" stroke-width="4" stroke-linejoin="miter" >A</text>
<text transform="matrix(1.0611 0 0 1.0235 296.06 162.35)" font-size="84" fill="#198b90" font-weight="700" font-style="italic" stroke="#198b90" stroke-width="4" stroke-linejoin="miter" >N</text>
<text transform="matrix(1.0286 0 0 1.0235 365.53 162.35)" font-size="84" fill="#198b90" font-weight="700" font-style="italic" stroke="#198b90" stroke-width="4" stroke-linejoin="miter" >D</text>
<text transform="matrix(0.9146 0 0 1.0235 432.16 162.35)" font-size="84" fill="#198b90" font-weight="700" font-style="italic" stroke="#198b90" stroke-width="4" stroke-linejoin="miter" >E</text>
<text transform="matrix(1.1438 0 0 1.0235 490.64 162.35)" font-size="84" fill="#198b90" font-weight="700" font-style="italic" stroke="#198b90" stroke-width="4" stroke-linejoin="miter" >M</text>
<text transform="matrix(1.0177 0 0 1.0235 574.77 162.35)" font-size="84" fill="#198b90" font-weight="700" font-style="italic" stroke="#198b90" stroke-width="4" stroke-linejoin="miter" >I</text>
<text transform="matrix(1.0323 0 0 1.0235 603.16 162.35)" font-size="84" fill="#198b90" font-weight="700" font-style="italic" stroke="#198b90" stroke-width="4" stroke-linejoin="miter" >A</text>
<text transform="matrix(0.9395 0 0 1.0356 698.62 162.85)" font-size="84" fill="#198b90" font-weight="700" font-style="italic" stroke="#198b90" stroke-width="4" stroke-linejoin="miter" >C</text>
<text transform="matrix(1.0664 0 0 1.0356 754.12 162.85)" font-size="84" fill="#198b90" font-weight="700" font-style="italic" stroke="#198b90" stroke-width="4" stroke-linejoin="miter" >O</text>
<text transform="matrix(1.0537 0 0 1.0235 822.49 162.35)" font-size="84" fill="#198b90" font-weight="700" font-style="italic" stroke="#198b90" stroke-width="4" stroke-linejoin="miter" >V</text>
<text transform="matrix(1.0354 0 0 1.0235 888.04 162.35)" font-size="84" fill="#198b90" font-weight="700" font-style="italic" stroke="#198b90" stroke-width="4" stroke-linejoin="miter" >I</text>
<text transform="matrix(1.0286 0 0 1.0235 918.03 162.35)" font-size="84" fill="#198b90" font-weight="700" font-style="italic" stroke="#198b90" stroke-width="4" stroke-linejoin="miter" >D</text>
<text transform="matrix(1.0052 0 0 1.0315 1070.25 162.86)" font-size="84" fill="#198b90" font-weight="700" font-style="italic" stroke="#198b90" stroke-width="4" stroke-linejoin="miter" >9</text>
<path d="M991.5 132.5H1026.9L1024.2 145.5H988.8Z" fill="#198b90"/>
<path d="M1039.2 101.2H1066.25L1053 164.4H1036.25L1046.6 115H1036.3Z" fill="#198b90"/>
<rect x="340" y="207.7" width="612.6" height="73.1" fill="#198b90" fill-opacity="0.998" />
<rect x="396" y="302.1" width="507.7" height="62.5" fill="#198b90" fill-opacity="0.998" />
<rect x="480" y="379" width="423.7" height="62.5" fill="#198b90" fill-opacity="0.998" />
<rect x="480" y="456.1" width="423.7" height="62.5" fill="#198b90" fill-opacity="0.998" />
<rect x="396" y="540.1" width="507.7" height="62.5" fill="#198b90" fill-opacity="0.998" />
<rect x="396" y="624.1" width="507.7" height="62.5" fill="#198b90" fill-opacity="0.998" />
<rect x="344" y="710" width="608.7" height="72.7" fill="#198b90" fill-opacity="0.998" />
<rect x="479" y="803" width="424.7" height="62.8" fill="#198b90" fill-opacity="0.998" />
<rect x="479" y="880" width="424.7" height="62.6" fill="#198b90" fill-opacity="0.998" />
<rect x="384" y="966.6" width="519.7" height="62.1" fill="#198b90" fill-opacity="0.998" />
<rect x="384" y="1052.6" width="519.7" height="62.2" fill="#198b90" fill-opacity="0.998" />
<rect x="371" y="260" width="25.5" height="426.6" fill="#10487c"/>
<rect x="454" y="345" width="26" height="173.6" fill="#10487c"/>
<rect x="454" y="760" width="25" height="182.6" fill="#10487c"/>
<rect x="329" y="218" width="451" height="52" fill="#10487c" fill-opacity="0.998" />
<rect x="371" y="312" width="385" height="43" fill="#10487c" fill-opacity="0.998" />
<rect x="454" y="388.5" width="302" height="43.5" fill="#10487c" fill-opacity="0.998" />
<rect x="454" y="465.5" width="302" height="43.2" fill="#10487c" fill-opacity="0.998" />
<rect x="371" y="550" width="385" height="43" fill="#10487c" fill-opacity="0.998" />
<rect x="371" y="633.5" width="385" height="43" fill="#10487c" fill-opacity="0.998" />
<rect x="329.3" y="721" width="448.7" height="50.8" fill="#10487c" fill-opacity="0.998" />
<rect x="454" y="812.4" width="302" height="43.6" fill="#10487c" fill-opacity="0.998" />
<rect x="454" y="889.4" width="302" height="43" fill="#10487c" fill-opacity="0.998" />
<rect x="371.6" y="976" width="384.4" height="43" fill="#10487c" fill-opacity="0.998" />
<rect x="371.6" y="1062" width="384.4" height="43" fill="#10487c" fill-opacity="0.998" />
<text transform="matrix(0.9929 0 0 1.0364 353.50 256.17)" font-size="33.8" fill="#fff" font-weight="400" stroke="#fff" stroke-width="1.05" stroke-linejoin="round" >TOTAL</text>
<text transform="matrix(0.9332 0 0 1.0364 470.58 256.17)" font-size="33.8" fill="#fff" font-weight="400" stroke="#fff" stroke-width="1.05" stroke-linejoin="round" >CASOS</text>
<text transform="matrix(0.9539 0 0 1.0364 589.10 256.17)" font-size="33.8" fill="#fff" font-weight="400" stroke="#fff" stroke-width="1.05" stroke-linejoin="round" >POSITIVOS</text>
<text transform="matrix(0.9375 0 0 1.0512 485.31 345.31)" font-size="29.1" fill="#fff" font-weight="400" stroke="#fff" stroke-width="1.05" stroke-linejoin="round" >CASOS</text>
<text transform="matrix(0.9576 0 0 1.0512 589.23 345.31)" font-size="29.1" fill="#fff" font-weight="400" stroke="#fff" stroke-width="1.05" stroke-linejoin="round" >ACTUALES</text>
<text transform="matrix(1.0040 0 0 1.0395 544.74 421.12)" font-size="29.1" fill="#fff" font-weight="400" stroke="#fff" stroke-width="1.05" stroke-linejoin="round" >INTERNADOS</text>
<text transform="matrix(1.0208 0 0 1.0419 503.01 498.12)" font-size="29.1" fill="#fff" font-weight="400" stroke="#fff" stroke-width="1.05" stroke-linejoin="round" >AMBULATORIOS</text>
<text transform="matrix(0.9489 0 0 1.0419 522.94 582.52)" font-size="29.1" fill="#fff" font-weight="400" stroke="#fff" stroke-width="1.05" stroke-linejoin="round" >RECUPERADOS</text>
<text transform="matrix(0.9819 0 0 1.0419 559.98 666.12)" font-size="29.1" fill="#fff" font-weight="400" stroke="#fff" stroke-width="1.05" stroke-linejoin="round" >FALLECIDOS</text>
<text transform="matrix(0.9317 0 0 1.0371 398.84 758.67)" font-size="33.1" fill="#fff" font-weight="400" stroke="#fff" stroke-width="1.05" stroke-linejoin="round" >CASOS</text>
<text transform="matrix(0.9487 0 0 1.0371 517.30 758.67)" font-size="33.1" fill="#fff" font-weight="400" stroke="#fff" stroke-width="1.05" stroke-linejoin="round" >SOSPECHOSOS</text>
<text transform="matrix(1.0093 0 0 1.0419 543.73 845.12)" font-size="29.1" fill="#fff" font-weight="400" stroke="#fff" stroke-width="1.05" stroke-linejoin="round" >INTERNADOS</text>
<text transform="matrix(1.0239 0 0 1.0419 502.31 922.12)" font-size="29.1" fill="#fff" font-weight="400" stroke="#fff" stroke-width="1.05" stroke-linejoin="round" >AMBULATORIOS</text>
<text transform="matrix(0.9907 0 0 1.0419 592.10 1008.72)" font-size="29.1" fill="#fff" font-weight="400" stroke="#fff" stroke-width="1.05" stroke-linejoin="round" >AISLADOS</text>
<text transform="matrix(0.9370 0 0 1.0465 422.26 1093.02)" font-size="29.1" fill="#fff" font-weight="400" stroke="#fff" stroke-width="1.05" stroke-linejoin="round" >CASOS</text>
<text transform="matrix(0.9716 0 0 1.0465 525.80 1093.02)" font-size="29.1" fill="#fff" font-weight="400" stroke="#fff" stroke-width="1.05" stroke-linejoin="round" >DESCARTADOS</text>
<path d="M822.20 218.60L812.64 218.60L796.90 231.25L802.34 238.23L810.44 232.01L810.44 269.20L822.20 269.20Z" fill="#fff"/>
<text transform="matrix(0.9377 0 0 0.9923 824.99 268.16)" font-size="70.7" fill="#fff" font-weight="700" stroke="#fff" stroke-width="2" stroke-linejoin="round" >209</text>
<text transform="matrix(0.9782 0 0 1.0011 783.62 354.40)" font-size="59" fill="#fff" font-weight="700" stroke="#fff" stroke-width="2" stroke-linejoin="round" >279</text>
<path d="M821.25 390.60L813.12 390.60L799.75 401.23L804.37 407.09L811.25 401.86L811.25 433.10L821.25 433.10Z" fill="#fff"/>
<text transform="matrix(1.0387 0 0 1.0000 825.94 432.10)" font-size="59" fill="#fff" font-weight="700" stroke="#fff" stroke-width="2" stroke-linejoin="round" >7</text>
<text transform="matrix(0.9958 0 0 0.9920 781.50 508.01)" font-size="59" fill="#fff" font-weight="700" stroke="#fff" stroke-width="2" stroke-linejoin="round" >262</text>
<text transform="matrix(0.9714 0 0 0.9920 783.63 592.01)" font-size="59" fill="#fff" font-weight="700" stroke="#fff" stroke-width="2" stroke-linejoin="round" >879</text>
<text transform="matrix(0.9127 0 0 0.9965 799.07 676.11)" font-size="59" fill="#fff" font-weight="700" stroke="#fff" stroke-width="2" stroke-linejoin="round" >5</text>
<path d="M855.60 634.75L847.34 634.75L833.75 645.38L838.45 651.24L845.44 646.01L845.44 677.25L855.60 677.25Z" fill="#fff"/>
<text transform="matrix(0.9564 0 0 0.9961 831.50 770.16)" font-size="70.7" fill="#fff" font-weight="700" stroke="#fff" stroke-width="2" stroke-linejoin="round" >54</text>
<path d="M826.25 813.50L818.12 813.50L804.75 824.23L809.37 830.15L816.25 824.87L816.25 856.40L826.25 856.40Z" fill="#fff"/>
<text transform="matrix(0.9651 0 0 1.0080 831.26 855.49)" font-size="59" fill="#fff" font-weight="700" stroke="#fff" stroke-width="2" stroke-linejoin="round" >3</text>
<text transform="matrix(0.9597 0 0 0.9941 799.75 931.01)" font-size="59" fill="#fff" font-weight="700" stroke="#fff" stroke-width="2" stroke-linejoin="round" >4</text>
<path d="M857.75 889.75L849.38 889.75L835.60 900.31L840.36 906.14L847.45 900.95L847.45 932.00L857.75 932.00Z" fill="#fff"/>
<text transform="matrix(0.9938 0 0 1.0011 782.76 1018.40)" font-size="59" fill="#fff" font-weight="700" stroke="#fff" stroke-width="2" stroke-linejoin="round" >829</text>
<path d="M796.90 1062.50L788.62 1062.50L775.00 1073.19L779.71 1079.09L786.72 1073.83L786.72 1105.25L796.90 1105.25Z" fill="#fff"/>
<path d="M820.90 1062.50L812.53 1062.50L798.75 1073.19L803.51 1079.09L810.60 1073.83L810.60 1105.25L820.90 1105.25Z" fill="#fff"/>
<text transform="matrix(0.9710 0 0 1.0103 824.39 1104.58)" font-size="59" fill="#fff" font-weight="700" stroke="#fff" stroke-width="2" stroke-linejoin="round" >05</text>
<rect x="982" y="378.5" width="310" height="142" fill="#ffffff" fill-opacity="0.998" stroke="#2b8b92" stroke-width="2.5"/>
<g>
<rect x="1098" y="400" width="66.3" height="57" rx="4.5" fill="#111"/>
<rect x="1103" y="418" width="10.8" height="10" fill="#fff" fill-opacity="0.998" />
<rect x="1103" y="430.5" width="10.8" height="10" fill="#fff" fill-opacity="0.998" />
<rect x="1103" y="443" width="10.8" height="10" fill="#fff" fill-opacity="0.998" />
<rect x="1118" y="418" width="10.8" height="10" fill="#fff" fill-opacity="0.998" />
<rect x="1118" y="430.5" width="10.8" height="10" fill="#fff" fill-opacity="0.998" />
<rect x="1118" y="443" width="10.8" height="10" fill="#fff" fill-opacity="0.998" />
<rect x="1133" y="418" width="10.8" height="10" fill="#fff" fill-opacity="0.998" />
<rect x="1133" y="430.5" width="10.8" height="10" fill="#fff" fill-opacity="0.998" />
<rect x="1133" y="443" width="10.8" height="10" fill="#fff" fill-opacity="0.998" />
<rect x="1148" y="418" width="11.3" height="10" fill="#fff" fill-opacity="0.998" />
<rect x="1148" y="430.5" width="11.3" height="10" fill="#fff" fill-opacity="0.998" />
<rect x="1148" y="443" width="11.3" height="10" fill="#fff" fill-opacity="0.998" />
<rect x="1111.45" y="402" width="8.6" height="7.8" rx="3.6" fill="none" stroke="#fff" stroke-width="1.1"/>
<rect x="1112.75" y="393" width="6" height="14.5" rx="3" fill="#111"/>
<rect x="1141.45" y="402" width="8.6" height="7.8" rx="3.6" fill="none" stroke="#fff" stroke-width="1.1"/>
<rect x="1142.75" y="393" width="6" height="14.5" rx="3" fill="#111"/>
</g>
<text transform="matrix(1.1165 0 0 1.0796 1017.56 504.13)" font-size="36" fill="#0a0a0a" font-weight="700" stroke="#0a0a0a" stroke-width="0.8" stroke-linejoin="round" >24</text>
<text transform="matrix(1.1502 0 0 1.0724 1152.54 503.95)" font-size="36" fill="#0a0a0a" font-weight="700" stroke="#0a0a0a" stroke-width="0.8" stroke-linejoin="round" >2020</text>
<path d="M1103.75 477.20L1097.72 477.20L1087.80 483.90L1091.23 487.60L1096.33 484.30L1096.33 504.00L1103.75 504.00Z" fill="#0a0a0a"/>
<path d="M1125.30 477.20L1119.29 477.20L1109.40 483.90L1112.82 487.60L1117.91 484.30L1117.91 504.00L1125.30 504.00Z" fill="#0a0a0a"/>
<rect x="1073.9" y="472.1" width="3.9" height="37.5" fill="#0a0a0a" fill-opacity="0.998" />
<rect x="1139.1" y="472.1" width="3.9" height="37.5" fill="#0a0a0a" fill-opacity="0.998" />
<rect x="0" y="805" width="410" height="135" fill="#198b90" fill-opacity="0.998" />
<g fill="#fff">
<path d="M97.5 831.7L114.0 831.7L98.8 908.6L82.3 908.6Z"/>
<path d="M122.1 831.7L138.5 831.7L123.3 908.6L106.9 908.6Z"/>
<path d="M87.9 847.7L145.3 847.7L142.0 864.0L84.6 864.0Z"/>
<path d="M80.8 877.4L138.7 877.4L135.5 893.4L77.6 893.4Z"/>
</g>
<text transform="matrix(0.9415 0 0 0.8829 155.54 859.80)" font-size="40" fill="#fff" font-weight="700" font-style="italic" stroke="#fff" stroke-width="2.2" stroke-linejoin="round" >Q</text>
<text transform="matrix(1.0309 0 0 0.9895 186.18 860.82)" font-size="40" fill="#fff" font-weight="700" font-style="italic" stroke="#fff" stroke-width="2.2" stroke-linejoin="round" >u</text>
<text transform="matrix(1.1727 0 0 1.0229 214.51 860.77)" font-size="40" fill="#fff" font-weight="700" font-style="italic" stroke="#fff" stroke-width="2.2" stroke-linejoin="round" >e</text>
<text transform="matrix(1.0705 0 0 0.9937 241.40 860.81)" font-size="40" fill="#fff" font-weight="700" font-style="italic" stroke="#fff" stroke-width="2.2" stroke-linejoin="round" >d</text>
<text transform="matrix(1.1054 0 0 1.0229 271.41 860.77)" font-size="40" fill="#fff" font-weight="700" font-style="italic" stroke="#fff" stroke-width="2.2" stroke-linejoin="round" >a</text>
<text transform="matrix(1.1344 0 0 1.0609 295.43 860.71)" font-size="40" fill="#fff" font-weight="700" font-style="italic" stroke="#fff" stroke-width="2.2" stroke-linejoin="round" >t</text>
<text transform="matrix(1.0682 0 0 1.0229 313.73 860.77)" font-size="40" fill="#fff" font-weight="700" font-style="italic" stroke="#fff" stroke-width="2.2" stroke-linejoin="round" >e</text>
<text transform="matrix(1.0154 0 0 1.0610 154.31 907.24)" font-size="40" fill="#fff" font-weight="700" font-style="italic" stroke="#fff" stroke-width="2.2" stroke-linejoin="round" >E</text>
<text transform="matrix(1.2247 0 0 1.1319 183.31 907.17)" font-size="40" fill="#fff" font-weight="700" font-style="italic" stroke="#fff" stroke-width="2.2" stroke-linejoin="round" >n</text>
<text transform="matrix(1.0504 0 0 1.0869 213.96 907.77)" font-size="40" fill="#fff" font-weight="700" font-style="italic" stroke="#fff" stroke-width="2.2" stroke-linejoin="round" >C</text>
<text transform="matrix(1.2086 0 0 1.1667 246.41 907.25)" font-size="40" fill="#fff" font-weight="700" font-style="italic" stroke="#fff" stroke-width="2.2" stroke-linejoin="round" >a</text>
<text transform="matrix(1.0989 0 0 1.1667 278.07 907.25)" font-size="40" fill="#fff" font-weight="700" font-style="italic" stroke="#fff" stroke-width="2.2" stroke-linejoin="round" >s</text>
<text transform="matrix(1.3118 0 0 1.1667 305.11 907.25)" font-size="40" fill="#fff" font-weight="700" font-style="italic" stroke="#fff" stroke-width="2.2" stroke-linejoin="round" >a</text>
<g>
<path d="M187.8 1164.1 L203.5 1164.1 Q208.2 1164.3 207.5 1169 L205.2 1181 Q195 1180.6 185 1182.2 Z" fill="#175a8c"/>
<path d="M204.9 1185.6 Q215 1185.2 224.8 1183 Q223.5 1201 218.2 1202.6 Q210 1203 201.9 1204 Q204.3 1195 204.9 1185.6 Z" fill="#175a8c"/>
<path d="M181.3 1211.2 Q194 1210 200.9 1204.6 L197.2 1229.7 L183.5 1229.7 Q177 1229.5 178 1223 Z" fill="#175a8c"/>
<path d="M165.3 1164.1 L179.5 1164.1 Q184.3 1164.3 183.6 1169 L181.25 1186.6 Q192 1186.2 203.75 1184.7 Q204 1193 202.8 1200.6 Q199 1206 190.6 1207.4 Q184 1209 177 1210 L173.75 1229.7 L161 1229.7 Q154.6 1229.5 155.5 1223.5 L157.8 1211.2 Q146 1211.6 134.4 1210 Q134.6 1203 136.7 1196.9 Q138.5 1191.2 143.75 1190.3 Q153 1189 162 1188.4 Z" fill="#d5672e"/>
<text transform="matrix(0.8018 0 0 1.0161 228.00 1226.84)" font-size="70" fill="#5a5a5a" font-weight="700" font-style="italic" stroke="#5a5a5a" stroke-width="6.5" stroke-linejoin="miter" >C</text>
<text transform="matrix(0.7619 0 0 0.9931 271.29 1226.57)" font-size="54" fill="#5a5a5a" font-weight="700" font-style="italic" stroke="#5a5a5a" stroke-width="6.5" stroke-linejoin="miter" >L</text>
<text transform="matrix(0.9362 0 0 0.9931 302.23 1226.57)" font-size="54" fill="#5a5a5a" font-weight="700" font-style="italic" stroke="#5a5a5a" stroke-width="6.5" stroke-linejoin="miter" >Y</text>
<text transform="matrix(1.0330 0 0 0.9931 375.71 1226.57)" font-size="54" fill="#5a5a5a" font-weight="700" font-style="italic" stroke="#5a5a5a" stroke-width="6.5" stroke-linejoin="miter" >A</text>
<text transform="matrix(0.7281 0 0 1.0034 345.00 1226.89)" font-size="54" fill="#5a5a5a" font-weight="700" font-style="italic" stroke="#5a5a5a" stroke-width="6" stroke-linejoin="miter" >S</text>
<text transform="matrix(1.0307 0 0 1 221.98 1252.00)" font-size="17.5" fill="#7d7d7d" font-weight="400" font-style="italic" >Emergencias Médicas</text>
</g>
<g>
<ellipse cx="528.5" cy="1205.6" rx="36" ry="47.6" fill="#fff" stroke="#1f9254" stroke-width="2"/>
<ellipse cx="528.3" cy="1204.5" rx="25" ry="35.4" fill="#fff" stroke="#1f9254" stroke-width="1.8"/>
<text class="serif" transform="translate(500.4 1210.1) rotate(-95.2)" text-anchor="middle" font-size="7.6" fill="#1f9254" stroke="#1f9254" stroke-width="0.25">C</text>
<text class="serif" transform="translate(500.2 1206.3) rotate(-91.1)" text-anchor="middle" font-size="7.6" fill="#1f9254" stroke="#1f9254" stroke-width="0.25">I</text>
<text class="serif" transform="translate(500.3 1202.5) rotate(-87.1)" text-anchor="middle" font-size="7.6" fill="#1f9254" stroke="#1f9254" stroke-width="0.25">R</text>
<text class="serif" transform="translate(500.8 1197.4) rotate(-81.8)" text-anchor="middle" font-size="7.6" fill="#1f9254" stroke="#1f9254" stroke-width="0.25">C</text>
<text class="serif" transform="translate(501.8 1192.3) rotate(-76.0)" text-anchor="middle" font-size="7.6" fill="#1f9254" stroke="#1f9254" stroke-width="0.25">U</text>
<text class="serif" transform="translate(503.3 1187.4) rotate(-70.0)" text-anchor="middle" font-size="7.6" fill="#1f9254" stroke="#1f9254" stroke-width="0.25">L</text>
<text class="serif" transform="translate(505.2 1182.8) rotate(-63.6)" text-anchor="middle" font-size="7.6" fill="#1f9254" stroke="#1f9254" stroke-width="0.25">O</text>
<text class="serif" transform="translate(509.8 1175.7) rotate(-50.9)" text-anchor="middle" font-size="7.6" fill="#1f9254" stroke="#1f9254" stroke-width="0.25">M</text>
<text class="serif" transform="translate(513.7 1171.7) rotate(-40.5)" text-anchor="middle" font-size="7.6" fill="#1f9254" stroke="#1f9254" stroke-width="0.25">E</text>
<text class="serif" transform="translate(517.7 1168.8) rotate(-29.6)" text-anchor="middle" font-size="7.6" fill="#1f9254" stroke="#1f9254" stroke-width="0.25">D</text>
<text class="serif" transform="translate(521.4 1167.1) rotate(-19.6)" text-anchor="middle" font-size="7.6" fill="#1f9254" stroke="#1f9254" stroke-width="0.25">I</text>
<text class="serif" transform="translate(525.2 1166.2) rotate(-9.2)" text-anchor="middle" font-size="7.6" fill="#1f9254" stroke="#1f9254" stroke-width="0.25">C</text>
<text class="serif" transform="translate(530.4 1166.0) rotate(5.6)" text-anchor="middle" font-size="7.6" fill="#1f9254" stroke="#1f9254" stroke-width="0.25">O</text>
<text class="serif" transform="translate(537.9 1168.2) rotate(26.5)" text-anchor="middle" font-size="7.6" fill="#1f9254" stroke="#1f9254" stroke-width="0.25">D</text>
<text class="serif" transform="translate(542.1 1170.9) rotate(37.8)" text-anchor="middle" font-size="7.6" fill="#1f9254" stroke="#1f9254" stroke-width="0.25">E</text>
<text class="serif" transform="translate(546.9 1175.5) rotate(50.4)" text-anchor="middle" font-size="7.6" fill="#1f9254" stroke="#1f9254" stroke-width="0.25">9</text>
<text class="serif" transform="translate(550.8 1181.3) rotate(61.3)" text-anchor="middle" font-size="7.6" fill="#1f9254" stroke="#1f9254" stroke-width="0.25">D</text>
<text class="serif" transform="translate(553.0 1185.9) rotate(68.0)" text-anchor="middle" font-size="7.6" fill="#1f9254" stroke="#1f9254" stroke-width="0.25">E</text>
<text class="serif" transform="translate(554.9 1191.8) rotate(75.4)" text-anchor="middle" font-size="7.6" fill="#1f9254" stroke="#1f9254" stroke-width="0.25">J</text>
<text class="serif" transform="translate(555.8 1196.0) rotate(80.2)" text-anchor="middle" font-size="7.6" fill="#1f9254" stroke="#1f9254" stroke-width="0.25">U</text>
<text class="serif" transform="translate(556.4 1201.0) rotate(85.6)" text-anchor="middle" font-size="7.6" fill="#1f9254" stroke="#1f9254" stroke-width="0.25">L</text>
<text class="serif" transform="translate(556.6 1204.7) rotate(89.4)" text-anchor="middle" font-size="7.6" fill="#1f9254" stroke="#1f9254" stroke-width="0.25">I</text>
<text class="serif" transform="translate(556.5 1208.7) rotate(93.7)" text-anchor="middle" font-size="7.6" fill="#1f9254" stroke="#1f9254" stroke-width="0.25">O</text>
<path d="M515.3 1183 C515.3 1192 519 1199 526 1200.5 L526 1228.5 L517.3 1234.6 L539.7 1234.6 L531.2 1228.5 L531.2 1200.5 C538.4 1199 542.2 1192 542.2 1183 Z" fill="#1f9254"/>
<ellipse cx="528.7" cy="1183" rx="13.4" ry="5.2" fill="#1f9254"/>
<path d="M518.3 1187 C519 1194 523 1198 528.7 1198 C534.4 1198 538.5 1194 539.2 1187 C533 1190 524 1190 518.3 1187Z" fill="#fff"/>
<ellipse cx="528.7" cy="1182.6" rx="10.4" ry="3.2" fill="#fff"/>
<path d="M522.5 1183.3 C526 1185.3 533 1184.8 535 1182.3" fill="none" stroke="#1f9254" stroke-width="1.6"/>
<path d="M531 1203 C536 1206 535 1209 528 1211 C521 1213 521 1217 528 1219 C535 1221 535 1225 529 1227" fill="none" stroke="#1f9254" stroke-width="3"/>
<rect x="528" y="1201" width="1" height="30" fill="#fff"/>
<text class="serif" x="518.7" y="1248" font-size="8" font-weight="700" fill="#222" textLength="20" lengthAdjust="spacingAndGlyphs">1963</text>
</g>
<g>
<defs><clipPath id="njc"><ellipse cx="711" cy="1186.5" rx="25" ry="29.6" transform="rotate(8 711 1186.5)"/></clipPath></defs>
<g clip-path="url(#njc)">
<rect x="680" y="1150" width="62" height="72" fill="#2f6c8b"/>
<circle cx="711" cy="1187.5" r="11.5" fill="#f3df8e"/>
<path d="M680 1193 C695 1199 705 1190 715 1182 C724 1175 732 1176 742 1178 L742 1225 L680 1225 Z" fill="#1f969b"/>
<path d="M680 1200 C697 1205 706 1194 716 1186 C725 1179 733 1180 742 1181 L742 1225 L680 1225 Z" fill="#ffffff"/>
<path d="M690 1212 C704 1210 708 1198 718 1189 C726 1182 735 1182 742 1184 L742 1225 L690 1225 Z" fill="#bcd7e1"/>
<path d="M690 1212 C704 1210 708 1198 718 1189 C712 1198 710 1208 708 1222 L690 1222 Z" fill="#93b6c2"/>
</g>
<text transform="matrix(1.0947 0 0 1 637.08 1238.00)" font-size="20.2" fill="#58585a" font-weight="400" >Nueve de Julio</text>
<text transform="matrix(1.0238 0 0 1 665.38 1253.60)" font-size="11.3" fill="#58585a" font-weight="400" >MUNICIPALIDAD</text>
</g>
<g>
<rect x="893" y="1157" width="44" height="86.7" rx="3.5" fill="#3f6592"/>
<rect x="871" y="1179.3" width="66" height="42.7" rx="3.5" fill="#3f6592"/>
<rect x="925" y="1179.3" width="34.6" height="42.7" rx="3.5" fill="#86aa5b"/>
<defs><clipPath id="cic"><rect x="860" y="1150" width="77" height="100"/></clipPath></defs>
<g clip-path="url(#cic)"><circle cx="942.6" cy="1200" r="38.6" fill="#fff"/><circle cx="942.6" cy="1200" r="32.2" fill="#86aa5b"/></g>
<circle cx="937" cy="1189.8" r="6.4" fill="#fff"/>
<path d="M916.2 1198 C924 1199.5 931 1201.5 933.5 1205 C935 1213 934.5 1222 933.6 1231 L936.8 1234 L939.6 1222 C939.8 1214 940 1208 941.2 1204.5 C944 1201.5 951 1199.5 957.5 1198 L957 1196.8 C950 1198 943 1199.3 937 1199.3 C931 1199.3 923 1198 916.6 1196.8 Z" fill="#fff"/>
<text transform="matrix(0.8627 0 0 1 856.78 1252.70)" font-size="10.3" fill="#111" font-weight="400" stroke="#111" stroke-width="0.2" stroke-linejoin="round" class="serif" >CLÍNICA</text>
<text transform="matrix(0.8991 0 0 1 898.38 1252.70)" font-size="10.3" fill="#111" font-weight="400" stroke="#111" stroke-width="0.2" stroke-linejoin="round" class="serif" >INDEPENDENCIA</text>
</g>
<g>
<path d="M1142.5 1204.0L1142.9 1204.6L1143.3 1205.2L1143.6 1205.8L1144.0 1206.5L1144.2 1207.1L1144.5 1207.8L1144.6 1208.4L1144.7 1209.0L1144.7 1209.7L1144.7 1210.3L1144.6 1210.9L1144.4 1211.6L1144.1 1212.1L1143.8 1212.7L1143.4 1213.3L1143.0 1213.8L1142.5 1214.4L1142.0 1214.9L1141.5 1215.4L1140.9 1215.9L1140.4 1216.3L1139.8 1216.8L1139.3 1217.2L1138.8 1217.7L1138.3 1218.1L1137.9 1218.6L1137.5 1219.1L1137.1 1219.5L1136.9 1220.0L1136.6 1220.5L1136.4 1221.1L1136.3 1221.6L1136.2 1222.2L1136.1 1222.8L1136.1 1223.4L1136.1 1224.1L1136.2 1224.8L1136.2 1225.5L1136.3 1226.2L1136.4 1226.9L1136.4 1227.6L1136.4 1228.4L1136.4 1229.1L1136.4 1229.8L1136.3 1230.5L1136.2 1231.1L1136.0 1231.8L1135.8 1232.4L1135.5 1232.9L1135.1 1233.5L1134.7 1233.9L1134.2 1234.4L1133.7 1234.8L1133.1 1235.1L1132.5 1235.4L1131.9 1235.7L1131.2 1235.9L1130.5 1236.1L1129.8 1236.2L1129.1 1236.4L1128.4 1236.5L1127.7 1236.6L1127.0 1236.8L1126.3 1236.9L1125.7 1237.1L1125.1 1237.2L1124.5 1237.4L1124.0 1237.7L1123.5 1238.0L1123.0 1238.3L1122.6 1238.6L1122.2 1239.1L1121.8 1239.5L1121.5 1240.0L1121.1 1240.6L1120.8 1241.1L1120.5 1241.7L1120.2 1242.4L1119.9 1243.0L1119.6 1243.7L1119.3 1244.3L1118.9 1245.0L1118.6 1245.6L1118.2 1246.2L1117.8 1246.7L1117.3 1247.2L1116.8 1247.7L1116.3 1248.1L1115.8 1248.4L1115.2 1248.7L1114.6 1248.9L1114.0 1249.1L1113.4 1249.1L1112.7 1249.2L1112.0 1249.1L1111.3 1249.0L1110.6 1248.9L1109.9 1248.7L1109.2 1248.5L1108.6 1248.2L1107.9 1248.0L1107.2 1247.8L1106.5 1247.5L1105.9 1247.3L1105.3 1247.1L1104.7 1247.0L1104.1 1246.9L1103.5 1246.8L1102.9 1246.8L1102.3 1246.8L1101.8 1246.9L1101.2 1247.1L1100.7 1247.3L1100.1 1247.6L1099.6 1247.9L1099.0 1248.2L1098.5 1248.6L1097.9 1249.0L1097.3 1249.4L1096.7 1249.8L1096.1 1250.2L1095.5 1250.6L1094.9 1250.9L1094.2 1251.3L1093.6 1251.5L1092.9 1251.8L1092.3 1251.9L1091.7 1252.0L1091.0 1252.0L1090.4 1252.0L1089.8 1251.9L1089.1 1251.7L1088.6 1251.4L1088.0 1251.1L1087.4 1250.7L1086.9 1250.3L1086.3 1249.8L1085.8 1249.3L1085.3 1248.8L1084.8 1248.2L1084.4 1247.7L1083.9 1247.1L1083.5 1246.6L1083.0 1246.1L1082.6 1245.6L1082.1 1245.2L1081.6 1244.8L1081.2 1244.4L1080.7 1244.2L1080.2 1243.9L1079.6 1243.7L1079.1 1243.6L1078.5 1243.5L1077.9 1243.4L1077.3 1243.4L1076.6 1243.4L1075.9 1243.5L1075.2 1243.5L1074.5 1243.6L1073.8 1243.7L1073.1 1243.7L1072.3 1243.7L1071.6 1243.7L1070.9 1243.7L1070.2 1243.6L1069.6 1243.5L1068.9 1243.3L1068.3 1243.1L1067.8 1242.8L1067.2 1242.4L1066.8 1242.0L1066.3 1241.5L1065.9 1241.0L1065.6 1240.4L1065.3 1239.8L1065.0 1239.2L1064.8 1238.5L1064.6 1237.8L1064.5 1237.1L1064.3 1236.4L1064.2 1235.7L1064.1 1235.0L1063.9 1234.3L1063.8 1233.6L1063.6 1233.0L1063.5 1232.4L1063.3 1231.8L1063.0 1231.3L1062.7 1230.8L1062.4 1230.3L1062.1 1229.9L1061.6 1229.5L1061.2 1229.1L1060.7 1228.8L1060.1 1228.4L1059.6 1228.1L1059.0 1227.8L1058.3 1227.5L1057.7 1227.2L1057.0 1226.9L1056.4 1226.6L1055.7 1226.2L1055.1 1225.9L1054.5 1225.5L1054.0 1225.1L1053.5 1224.6L1053.0 1224.1L1052.6 1223.6L1052.3 1223.1L1052.0 1222.5L1051.8 1221.9L1051.6 1221.3L1051.6 1220.7L1051.5 1220.0L1051.6 1219.3L1051.7 1218.6L1051.8 1217.9L1052.0 1217.2L1052.2 1216.5L1052.5 1215.9L1052.7 1215.2L1052.9 1214.5L1053.2 1213.8L1053.4 1213.2L1053.6 1212.6L1053.7 1212.0L1053.8 1211.4L1053.9 1210.8L1053.9 1210.2L1053.9 1209.6L1053.8 1209.1L1053.6 1208.5L1053.4 1208.0L1053.1 1207.4L1052.8 1206.9L1052.5 1206.3L1052.1 1205.8L1051.7 1205.2L1051.3 1204.6L1050.9 1204.0L1050.5 1203.4L1050.1 1202.8L1049.8 1202.2L1049.4 1201.5L1049.2 1200.9L1048.9 1200.2L1048.8 1199.6L1048.7 1199.0L1048.7 1198.3L1048.7 1197.7L1048.8 1197.1L1049.0 1196.4L1049.3 1195.9L1049.6 1195.3L1050.0 1194.7L1050.4 1194.2L1050.9 1193.6L1051.4 1193.1L1051.9 1192.6L1052.5 1192.1L1053.0 1191.7L1053.6 1191.2L1054.1 1190.8L1054.6 1190.3L1055.1 1189.9L1055.5 1189.4L1055.9 1188.9L1056.3 1188.5L1056.5 1188.0L1056.8 1187.5L1057.0 1186.9L1057.1 1186.4L1057.2 1185.8L1057.3 1185.2L1057.3 1184.6L1057.3 1183.9L1057.2 1183.2L1057.2 1182.5L1057.1 1181.8L1057.0 1181.1L1057.0 1180.4L1057.0 1179.6L1057.0 1178.9L1057.0 1178.2L1057.1 1177.5L1057.2 1176.9L1057.4 1176.2L1057.6 1175.6L1057.9 1175.1L1058.3 1174.5L1058.7 1174.1L1059.2 1173.6L1059.7 1173.2L1060.3 1172.9L1060.9 1172.6L1061.5 1172.3L1062.2 1172.1L1062.9 1171.9L1063.6 1171.8L1064.3 1171.6L1065.0 1171.5L1065.7 1171.4L1066.4 1171.2L1067.1 1171.1L1067.7 1170.9L1068.3 1170.8L1068.9 1170.6L1069.4 1170.3L1069.9 1170.0L1070.4 1169.7L1070.8 1169.4L1071.2 1168.9L1071.6 1168.5L1071.9 1168.0L1072.3 1167.4L1072.6 1166.9L1072.9 1166.3L1073.2 1165.6L1073.5 1165.0L1073.8 1164.3L1074.1 1163.7L1074.5 1163.0L1074.8 1162.4L1075.2 1161.8L1075.6 1161.3L1076.1 1160.8L1076.6 1160.3L1077.1 1159.9L1077.6 1159.6L1078.2 1159.3L1078.8 1159.1L1079.4 1158.9L1080.0 1158.9L1080.7 1158.8L1081.4 1158.9L1082.1 1159.0L1082.8 1159.1L1083.5 1159.3L1084.2 1159.5L1084.8 1159.8L1085.5 1160.0L1086.2 1160.2L1086.9 1160.5L1087.5 1160.7L1088.1 1160.9L1088.7 1161.0L1089.3 1161.1L1089.9 1161.2L1090.5 1161.2L1091.1 1161.2L1091.6 1161.1L1092.2 1160.9L1092.7 1160.7L1093.3 1160.4L1093.8 1160.1L1094.4 1159.8L1094.9 1159.4L1095.5 1159.0L1096.1 1158.6L1096.7 1158.2L1097.3 1157.8L1097.9 1157.4L1098.5 1157.1L1099.2 1156.7L1099.8 1156.5L1100.5 1156.2L1101.1 1156.1L1101.7 1156.0L1102.4 1156.0L1103.0 1156.0L1103.6 1156.1L1104.3 1156.3L1104.8 1156.6L1105.4 1156.9L1106.0 1157.3L1106.5 1157.7L1107.1 1158.2L1107.6 1158.7L1108.1 1159.2L1108.6 1159.8L1109.0 1160.3L1109.5 1160.9L1109.9 1161.4L1110.4 1161.9L1110.8 1162.4L1111.3 1162.8L1111.8 1163.2L1112.2 1163.6L1112.7 1163.8L1113.2 1164.1L1113.8 1164.3L1114.3 1164.4L1114.9 1164.5L1115.5 1164.6L1116.1 1164.6L1116.8 1164.6L1117.5 1164.5L1118.2 1164.5L1118.9 1164.4L1119.6 1164.3L1120.3 1164.3L1121.1 1164.3L1121.8 1164.3L1122.5 1164.3L1123.2 1164.4L1123.8 1164.5L1124.5 1164.7L1125.1 1164.9L1125.6 1165.2L1126.2 1165.6L1126.6 1166.0L1127.1 1166.5L1127.5 1167.0L1127.8 1167.6L1128.1 1168.2L1128.4 1168.8L1128.6 1169.5L1128.8 1170.2L1128.9 1170.9L1129.1 1171.6L1129.2 1172.3L1129.3 1173.0L1129.5 1173.7L1129.6 1174.4L1129.8 1175.0L1129.9 1175.6L1130.1 1176.2L1130.4 1176.7L1130.7 1177.2L1131.0 1177.7L1131.3 1178.1L1131.8 1178.5L1132.2 1178.9L1132.7 1179.2L1133.3 1179.6L1133.8 1179.9L1134.4 1180.2L1135.1 1180.5L1135.7 1180.8L1136.4 1181.1L1137.0 1181.4L1137.7 1181.8L1138.3 1182.1L1138.9 1182.5L1139.4 1182.9L1139.9 1183.4L1140.4 1183.9L1140.8 1184.4L1141.1 1184.9L1141.4 1185.5L1141.6 1186.1L1141.8 1186.7L1141.8 1187.3L1141.9 1188.0L1141.8 1188.7L1141.7 1189.4L1141.6 1190.1L1141.4 1190.8L1141.2 1191.5L1140.9 1192.1L1140.7 1192.8L1140.5 1193.5L1140.2 1194.2L1140.0 1194.8L1139.8 1195.4L1139.7 1196.0L1139.6 1196.6L1139.5 1197.2L1139.5 1197.8L1139.5 1198.4L1139.6 1198.9L1139.8 1199.5L1140.0 1200.0L1140.3 1200.6L1140.6 1201.1L1140.9 1201.7L1141.3 1202.2L1141.7 1202.8L1142.1 1203.4L1142.5 1204.0Z" fill="none" stroke="#3a3a3a" stroke-width="0.95"/>
<path d="M1142.5 1204.0L1142.1 1204.6L1141.7 1205.2L1141.3 1205.8L1140.9 1206.3L1140.6 1206.9L1140.3 1207.4L1140.0 1208.0L1139.8 1208.5L1139.6 1209.1L1139.5 1209.6L1139.5 1210.2L1139.5 1210.8L1139.6 1211.4L1139.7 1212.0L1139.8 1212.6L1140.0 1213.2L1140.2 1213.8L1140.5 1214.5L1140.7 1215.2L1140.9 1215.9L1141.2 1216.5L1141.4 1217.2L1141.6 1217.9L1141.7 1218.6L1141.8 1219.3L1141.9 1220.0L1141.8 1220.7L1141.8 1221.3L1141.6 1221.9L1141.4 1222.5L1141.1 1223.1L1140.8 1223.6L1140.4 1224.1L1139.9 1224.6L1139.4 1225.1L1138.9 1225.5L1138.3 1225.9L1137.7 1226.2L1137.0 1226.6L1136.4 1226.9L1135.7 1227.2L1135.1 1227.5L1134.4 1227.8L1133.8 1228.1L1133.3 1228.4L1132.7 1228.8L1132.2 1229.1L1131.8 1229.5L1131.3 1229.9L1131.0 1230.3L1130.7 1230.8L1130.4 1231.3L1130.1 1231.8L1129.9 1232.4L1129.8 1233.0L1129.6 1233.6L1129.5 1234.3L1129.3 1235.0L1129.2 1235.7L1129.1 1236.4L1128.9 1237.1L1128.8 1237.8L1128.6 1238.5L1128.4 1239.2L1128.1 1239.8L1127.8 1240.4L1127.5 1241.0L1127.1 1241.5L1126.6 1242.0L1126.2 1242.4L1125.6 1242.8L1125.1 1243.1L1124.5 1243.3L1123.8 1243.5L1123.2 1243.6L1122.5 1243.7L1121.8 1243.7L1121.1 1243.7L1120.3 1243.7L1119.6 1243.7L1118.9 1243.6L1118.2 1243.5L1117.5 1243.5L1116.8 1243.4L1116.1 1243.4L1115.5 1243.4L1114.9 1243.5L1114.3 1243.6L1113.8 1243.7L1113.2 1243.9L1112.7 1244.2L1112.2 1244.4L1111.8 1244.8L1111.3 1245.2L1110.8 1245.6L1110.4 1246.1L1109.9 1246.6L1109.5 1247.1L1109.0 1247.7L1108.6 1248.2L1108.1 1248.8L1107.6 1249.3L1107.1 1249.8L1106.5 1250.3L1106.0 1250.7L1105.4 1251.1L1104.8 1251.4L1104.3 1251.7L1103.6 1251.9L1103.0 1252.0L1102.4 1252.0L1101.7 1252.0L1101.1 1251.9L1100.5 1251.8L1099.8 1251.5L1099.2 1251.3L1098.5 1250.9L1097.9 1250.6L1097.3 1250.2L1096.7 1249.8L1096.1 1249.4L1095.5 1249.0L1094.9 1248.6L1094.4 1248.2L1093.8 1247.9L1093.3 1247.6L1092.7 1247.3L1092.2 1247.1L1091.6 1246.9L1091.1 1246.8L1090.5 1246.8L1089.9 1246.8L1089.3 1246.9L1088.7 1247.0L1088.1 1247.1L1087.5 1247.3L1086.9 1247.5L1086.2 1247.8L1085.5 1248.0L1084.8 1248.2L1084.2 1248.5L1083.5 1248.7L1082.8 1248.9L1082.1 1249.0L1081.4 1249.1L1080.7 1249.2L1080.0 1249.1L1079.4 1249.1L1078.8 1248.9L1078.2 1248.7L1077.6 1248.4L1077.1 1248.1L1076.6 1247.7L1076.1 1247.2L1075.6 1246.7L1075.2 1246.2L1074.8 1245.6L1074.5 1245.0L1074.1 1244.3L1073.8 1243.7L1073.5 1243.0L1073.2 1242.4L1072.9 1241.7L1072.6 1241.1L1072.3 1240.6L1071.9 1240.0L1071.6 1239.5L1071.2 1239.1L1070.8 1238.6L1070.4 1238.3L1069.9 1238.0L1069.4 1237.7L1068.9 1237.4L1068.3 1237.2L1067.7 1237.1L1067.1 1236.9L1066.4 1236.8L1065.7 1236.6L1065.0 1236.5L1064.3 1236.4L1063.6 1236.2L1062.9 1236.1L1062.2 1235.9L1061.5 1235.7L1060.9 1235.4L1060.3 1235.1L1059.7 1234.8L1059.2 1234.4L1058.7 1233.9L1058.3 1233.5L1057.9 1232.9L1057.6 1232.4L1057.4 1231.8L1057.2 1231.1L1057.1 1230.5L1057.0 1229.8L1057.0 1229.1L1057.0 1228.4L1057.0 1227.6L1057.0 1226.9L1057.1 1226.2L1057.2 1225.5L1057.2 1224.8L1057.3 1224.1L1057.3 1223.4L1057.3 1222.8L1057.2 1222.2L1057.1 1221.6L1057.0 1221.1L1056.8 1220.5L1056.5 1220.0L1056.3 1219.5L1055.9 1219.1L1055.5 1218.6L1055.1 1218.1L1054.6 1217.7L1054.1 1217.2L1053.6 1216.8L1053.0 1216.3L1052.5 1215.9L1051.9 1215.4L1051.4 1214.9L1050.9 1214.4L1050.4 1213.8L1050.0 1213.3L1049.6 1212.7L1049.3 1212.1L1049.0 1211.6L1048.8 1210.9L1048.7 1210.3L1048.7 1209.7L1048.7 1209.0L1048.8 1208.4L1048.9 1207.8L1049.2 1207.1L1049.4 1206.5L1049.8 1205.8L1050.1 1205.2L1050.5 1204.6L1050.9 1204.0L1051.3 1203.4L1051.7 1202.8L1052.1 1202.2L1052.5 1201.7L1052.8 1201.1L1053.1 1200.6L1053.4 1200.0L1053.6 1199.5L1053.8 1198.9L1053.9 1198.4L1053.9 1197.8L1053.9 1197.2L1053.8 1196.6L1053.7 1196.0L1053.6 1195.4L1053.4 1194.8L1053.2 1194.2L1052.9 1193.5L1052.7 1192.8L1052.5 1192.1L1052.2 1191.5L1052.0 1190.8L1051.8 1190.1L1051.7 1189.4L1051.6 1188.7L1051.5 1188.0L1051.6 1187.3L1051.6 1186.7L1051.8 1186.1L1052.0 1185.5L1052.3 1184.9L1052.6 1184.4L1053.0 1183.9L1053.5 1183.4L1054.0 1182.9L1054.5 1182.5L1055.1 1182.1L1055.7 1181.8L1056.4 1181.4L1057.0 1181.1L1057.7 1180.8L1058.3 1180.5L1059.0 1180.2L1059.6 1179.9L1060.1 1179.6L1060.7 1179.2L1061.2 1178.9L1061.6 1178.5L1062.1 1178.1L1062.4 1177.7L1062.7 1177.2L1063.0 1176.7L1063.3 1176.2L1063.5 1175.6L1063.6 1175.0L1063.8 1174.4L1063.9 1173.7L1064.1 1173.0L1064.2 1172.3L1064.3 1171.6L1064.5 1170.9L1064.6 1170.2L1064.8 1169.5L1065.0 1168.8L1065.3 1168.2L1065.6 1167.6L1065.9 1167.0L1066.3 1166.5L1066.8 1166.0L1067.2 1165.6L1067.8 1165.2L1068.3 1164.9L1068.9 1164.7L1069.6 1164.5L1070.2 1164.4L1070.9 1164.3L1071.6 1164.3L1072.3 1164.3L1073.1 1164.3L1073.8 1164.3L1074.5 1164.4L1075.2 1164.5L1075.9 1164.5L1076.6 1164.6L1077.3 1164.6L1077.9 1164.6L1078.5 1164.5L1079.1 1164.4L1079.6 1164.3L1080.2 1164.1L1080.7 1163.8L1081.2 1163.6L1081.6 1163.2L1082.1 1162.8L1082.6 1162.4L1083.0 1161.9L1083.5 1161.4L1083.9 1160.9L1084.4 1160.3L1084.8 1159.8L1085.3 1159.2L1085.8 1158.7L1086.3 1158.2L1086.9 1157.7L1087.4 1157.3L1088.0 1156.9L1088.6 1156.6L1089.1 1156.3L1089.8 1156.1L1090.4 1156.0L1091.0 1156.0L1091.7 1156.0L1092.3 1156.1L1092.9 1156.2L1093.6 1156.5L1094.2 1156.7L1094.9 1157.1L1095.5 1157.4L1096.1 1157.8L1096.7 1158.2L1097.3 1158.6L1097.9 1159.0L1098.5 1159.4L1099.0 1159.8L1099.6 1160.1L1100.1 1160.4L1100.7 1160.7L1101.2 1160.9L1101.8 1161.1L1102.3 1161.2L1102.9 1161.2L1103.5 1161.2L1104.1 1161.1L1104.7 1161.0L1105.3 1160.9L1105.9 1160.7L1106.5 1160.5L1107.2 1160.2L1107.9 1160.0L1108.6 1159.8L1109.2 1159.5L1109.9 1159.3L1110.6 1159.1L1111.3 1159.0L1112.0 1158.9L1112.7 1158.8L1113.4 1158.9L1114.0 1158.9L1114.6 1159.1L1115.2 1159.3L1115.8 1159.6L1116.3 1159.9L1116.8 1160.3L1117.3 1160.8L1117.8 1161.3L1118.2 1161.8L1118.6 1162.4L1118.9 1163.0L1119.3 1163.7L1119.6 1164.3L1119.9 1165.0L1120.2 1165.6L1120.5 1166.3L1120.8 1166.9L1121.1 1167.4L1121.5 1168.0L1121.8 1168.5L1122.2 1168.9L1122.6 1169.4L1123.0 1169.7L1123.5 1170.0L1124.0 1170.3L1124.5 1170.6L1125.1 1170.8L1125.7 1170.9L1126.3 1171.1L1127.0 1171.2L1127.7 1171.4L1128.4 1171.5L1129.1 1171.6L1129.8 1171.8L1130.5 1171.9L1131.2 1172.1L1131.9 1172.3L1132.5 1172.6L1133.1 1172.9L1133.7 1173.2L1134.2 1173.6L1134.7 1174.1L1135.1 1174.5L1135.5 1175.1L1135.8 1175.6L1136.0 1176.2L1136.2 1176.9L1136.3 1177.5L1136.4 1178.2L1136.4 1178.9L1136.4 1179.6L1136.4 1180.4L1136.4 1181.1L1136.3 1181.8L1136.2 1182.5L1136.2 1183.2L1136.1 1183.9L1136.1 1184.6L1136.1 1185.2L1136.2 1185.8L1136.3 1186.4L1136.4 1186.9L1136.6 1187.5L1136.9 1188.0L1137.1 1188.5L1137.5 1188.9L1137.9 1189.4L1138.3 1189.9L1138.8 1190.3L1139.3 1190.8L1139.8 1191.2L1140.4 1191.7L1140.9 1192.1L1141.5 1192.6L1142.0 1193.1L1142.5 1193.6L1143.0 1194.2L1143.4 1194.7L1143.8 1195.3L1144.1 1195.9L1144.4 1196.4L1144.6 1197.1L1144.7 1197.7L1144.7 1198.3L1144.7 1199.0L1144.6 1199.6L1144.5 1200.2L1144.2 1200.9L1144.0 1201.5L1143.6 1202.2L1143.3 1202.8L1142.9 1203.4L1142.5 1204.0Z" fill="none" stroke="#3a3a3a" stroke-width="0.95"/>
<defs><linearGradient id="jg" x1="0" y1="0" x2="1" y2="1"><stop offset="0" stop-color="#777"/><stop offset="1" stop-color="#2e2e2e"/></linearGradient></defs>
<path d="M1090 1171H1103V1184.8H1118V1196.9H1103.8V1209.7H1090V1196.9H1076V1184.8H1090Z" fill="url(#jg)"/>
<path d="M1091 1186 L1092.5 1195 L1096 1193 L1099.5 1183.5 L1101 1184 L1099 1192 L1102.5 1185.5 L1103.6 1186 L1101 1193.5 L1105 1188 L1106 1189 L1101.5 1197 C1099 1200 1095 1201.5 1093 1205 L1091.5 1209.7 L1090 1209.7 L1092 1202 L1090 1197 Z" fill="#fff"/>
<text x="1088.5" y="1220.5" font-size="4.6" font-style="italic" font-weight="700" fill="#666" textLength="16" lengthAdjust="spacingAndGlyphs">ACLIA</text>
<text x="1073.7" y="1233.7" font-size="6.3" font-style="italic" font-weight="700" fill="#444" textLength="47.3" lengthAdjust="spacingAndGlyphs">JULIO DE VEDIA</text>
</g>
</g>
</svg>
</body>
</html>
